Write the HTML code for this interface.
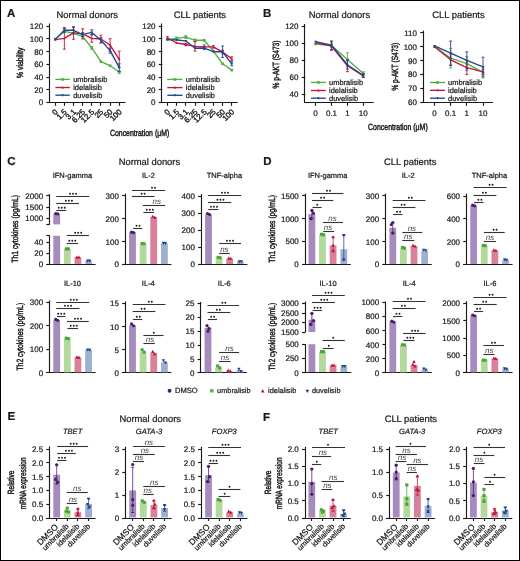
<!DOCTYPE html>
<html><head><meta charset="utf-8"><style>
html,body{margin:0;padding:0;background:#fff;}
body{width:520px;height:561px;overflow:hidden;}
svg{display:block;will-change:transform;font-family:"Liberation Sans",sans-serif;fill:#1a1a1a;}
text{stroke:#1a1a1a;stroke-width:0.22px;text-rendering:geometricPrecision;}
</style></head><body>
<svg width="520" height="561" viewBox="0 0 520 561">
<rect x="0.5" y="0.5" width="519" height="560" fill="#fff" stroke="#000" stroke-width="1"/>
<text x="7" y="16.9" font-size="11.5" font-weight="bold" >A</text>
<text x="87.3" y="18.1" font-size="9.4" text-anchor="middle" >Normal donors</text>
<text x="199.8" y="18.1" font-size="9.4" text-anchor="middle" >CLL patients</text>
<line x1="49.5" y1="23.5" x2="49.5" y2="102.6" stroke="#1a1a1a" stroke-width="1.15" stroke-linecap="butt"/>
<line x1="46.4" y1="26.5" x2="49.98" y2="26.5" stroke="#1a1a1a" stroke-width="1.15" stroke-linecap="butt"/>
<text x="43.2" y="29.13" font-size="8" text-anchor="end" >120</text>
<line x1="46.4" y1="38.5" x2="49.98" y2="38.5" stroke="#1a1a1a" stroke-width="1.15" stroke-linecap="butt"/>
<text x="43.2" y="41.85" font-size="8" text-anchor="end" >100</text>
<line x1="46.4" y1="51.5" x2="49.98" y2="51.5" stroke="#1a1a1a" stroke-width="1.15" stroke-linecap="butt"/>
<text x="43.2" y="54.57" font-size="8" text-anchor="end" >80</text>
<line x1="46.4" y1="64.5" x2="49.98" y2="64.5" stroke="#1a1a1a" stroke-width="1.15" stroke-linecap="butt"/>
<text x="43.2" y="67.29" font-size="8" text-anchor="end" >60</text>
<line x1="46.4" y1="77.5" x2="49.98" y2="77.5" stroke="#1a1a1a" stroke-width="1.15" stroke-linecap="butt"/>
<text x="43.2" y="80.01" font-size="8" text-anchor="end" >40</text>
<line x1="46.4" y1="89.5" x2="49.98" y2="89.5" stroke="#1a1a1a" stroke-width="1.15" stroke-linecap="butt"/>
<text x="43.2" y="92.73" font-size="8" text-anchor="end" >20</text>
<line x1="46.4" y1="102.5" x2="49.98" y2="102.5" stroke="#1a1a1a" stroke-width="1.15" stroke-linecap="butt"/>
<text x="43.2" y="105.45" font-size="8" text-anchor="end" >0</text>
<line x1="48.82" y1="102.5" x2="125.6" y2="102.5" stroke="#1a1a1a" stroke-width="1.15" stroke-linecap="butt"/>
<line x1="55.5" y1="102.6" x2="55.5" y2="105.8" stroke="#1a1a1a" stroke-width="1.15" stroke-linecap="butt"/>
<line x1="64.5" y1="102.6" x2="64.5" y2="105.8" stroke="#1a1a1a" stroke-width="1.15" stroke-linecap="butt"/>
<line x1="73.5" y1="102.6" x2="73.5" y2="105.8" stroke="#1a1a1a" stroke-width="1.15" stroke-linecap="butt"/>
<line x1="82.5" y1="102.6" x2="82.5" y2="105.8" stroke="#1a1a1a" stroke-width="1.15" stroke-linecap="butt"/>
<line x1="91.5" y1="102.6" x2="91.5" y2="105.8" stroke="#1a1a1a" stroke-width="1.15" stroke-linecap="butt"/>
<line x1="100.5" y1="102.6" x2="100.5" y2="105.8" stroke="#1a1a1a" stroke-width="1.15" stroke-linecap="butt"/>
<line x1="110.5" y1="102.6" x2="110.5" y2="105.8" stroke="#1a1a1a" stroke-width="1.15" stroke-linecap="butt"/>
<line x1="119.5" y1="102.6" x2="119.5" y2="105.8" stroke="#1a1a1a" stroke-width="1.15" stroke-linecap="butt"/>
<text transform="translate(58.2,112.4) rotate(-45)" font-size="7.8" text-anchor="end" style="stroke-width:0.35px">0</text>
<text transform="translate(67.35,112.4) rotate(-45)" font-size="7.8" text-anchor="end" style="stroke-width:0.35px">1.5</text>
<text transform="translate(76.5,112.4) rotate(-45)" font-size="7.8" text-anchor="end" style="stroke-width:0.35px">3.1</text>
<text transform="translate(85.65,112.4) rotate(-45)" font-size="7.8" text-anchor="end" style="stroke-width:0.35px">6.25</text>
<text transform="translate(94.8,112.4) rotate(-45)" font-size="7.8" text-anchor="end" style="stroke-width:0.35px">12.5</text>
<text transform="translate(103.95,112.4) rotate(-45)" font-size="7.8" text-anchor="end" style="stroke-width:0.35px">25</text>
<text transform="translate(113.1,112.4) rotate(-45)" font-size="7.8" text-anchor="end" style="stroke-width:0.35px">50</text>
<text transform="translate(122.25,112.4) rotate(-45)" font-size="7.8" text-anchor="end" style="stroke-width:0.35px">100</text>
<polyline points="55.2,39 64.35,31.37 73.5,33.28 82.65,36.46 91.8,47.9 100.95,61.58 110.1,65.71 119.25,72.07" fill="none" stroke="#52b043" stroke-width="1.35" stroke-linejoin="round"/>
<rect x="53.87" y="37.67" width="2.65" height="2.65" fill="#52b043"/>
<rect x="63.02" y="30.04" width="2.65" height="2.65" fill="#52b043"/>
<rect x="72.17" y="31.95" width="2.65" height="2.65" fill="#52b043"/>
<rect x="81.32" y="35.13" width="2.65" height="2.65" fill="#52b043"/>
<line x1="91.8" y1="46.63" x2="91.8" y2="49.18" stroke="#52b043" stroke-width="0.9" stroke-linecap="butt"/>
<line x1="90.3" y1="46.63" x2="93.3" y2="46.63" stroke="#52b043" stroke-width="0.9" stroke-linecap="butt"/>
<line x1="90.3" y1="49.18" x2="93.3" y2="49.18" stroke="#52b043" stroke-width="0.9" stroke-linecap="butt"/>
<rect x="90.47" y="46.58" width="2.65" height="2.65" fill="#52b043"/>
<rect x="99.62" y="60.25" width="2.65" height="2.65" fill="#52b043"/>
<rect x="108.77" y="64.39" width="2.65" height="2.65" fill="#52b043"/>
<line x1="119.25" y1="70.8" x2="119.25" y2="73.34" stroke="#52b043" stroke-width="0.9" stroke-linecap="butt"/>
<line x1="117.75" y1="70.8" x2="120.75" y2="70.8" stroke="#52b043" stroke-width="0.9" stroke-linecap="butt"/>
<line x1="117.75" y1="73.34" x2="120.75" y2="73.34" stroke="#52b043" stroke-width="0.9" stroke-linecap="butt"/>
<rect x="117.92" y="70.75" width="2.65" height="2.65" fill="#52b043"/>
<polyline points="55.2,39.64 64.35,38.36 73.5,32.89 82.65,33.91 91.8,38.36 100.95,39 110.1,45.04 119.25,59.35" fill="none" stroke="#c4163b" stroke-width="1.35" stroke-linejoin="round"/>
<path d="M55.2 38.15L56.53 40.62L53.87 40.62Z" fill="#c4163b"/>
<line x1="64.35" y1="27.55" x2="64.35" y2="49.18" stroke="#c4163b" stroke-width="0.9" stroke-linecap="butt"/>
<line x1="62.85" y1="27.55" x2="65.85" y2="27.55" stroke="#c4163b" stroke-width="0.9" stroke-linecap="butt"/>
<line x1="62.85" y1="49.18" x2="65.85" y2="49.18" stroke="#c4163b" stroke-width="0.9" stroke-linecap="butt"/>
<path d="M64.35 36.88L65.68 39.35L63.02 39.35Z" fill="#c4163b"/>
<line x1="73.5" y1="26.53" x2="73.5" y2="39.25" stroke="#c4163b" stroke-width="0.9" stroke-linecap="butt"/>
<line x1="72" y1="26.53" x2="75" y2="26.53" stroke="#c4163b" stroke-width="0.9" stroke-linecap="butt"/>
<line x1="72" y1="39.25" x2="75" y2="39.25" stroke="#c4163b" stroke-width="0.9" stroke-linecap="butt"/>
<path d="M73.5 31.41L74.83 33.88L72.17 33.88Z" fill="#c4163b"/>
<line x1="82.65" y1="28.82" x2="82.65" y2="39" stroke="#c4163b" stroke-width="0.9" stroke-linecap="butt"/>
<line x1="81.15" y1="28.82" x2="84.15" y2="28.82" stroke="#c4163b" stroke-width="0.9" stroke-linecap="butt"/>
<line x1="81.15" y1="39" x2="84.15" y2="39" stroke="#c4163b" stroke-width="0.9" stroke-linecap="butt"/>
<path d="M82.65 32.43L83.98 34.9L81.32 34.9Z" fill="#c4163b"/>
<line x1="91.8" y1="34.55" x2="91.8" y2="42.18" stroke="#c4163b" stroke-width="0.9" stroke-linecap="butt"/>
<line x1="90.3" y1="34.55" x2="93.3" y2="34.55" stroke="#c4163b" stroke-width="0.9" stroke-linecap="butt"/>
<line x1="90.3" y1="42.18" x2="93.3" y2="42.18" stroke="#c4163b" stroke-width="0.9" stroke-linecap="butt"/>
<path d="M91.8 36.88L93.13 39.35L90.47 39.35Z" fill="#c4163b"/>
<line x1="100.95" y1="35.18" x2="100.95" y2="42.82" stroke="#c4163b" stroke-width="0.9" stroke-linecap="butt"/>
<line x1="99.45" y1="35.18" x2="102.45" y2="35.18" stroke="#c4163b" stroke-width="0.9" stroke-linecap="butt"/>
<line x1="99.45" y1="42.82" x2="102.45" y2="42.82" stroke="#c4163b" stroke-width="0.9" stroke-linecap="butt"/>
<path d="M100.95 37.52L102.28 39.99L99.62 39.99Z" fill="#c4163b"/>
<line x1="110.1" y1="38.68" x2="110.1" y2="51.4" stroke="#c4163b" stroke-width="0.9" stroke-linecap="butt"/>
<line x1="108.6" y1="38.68" x2="111.6" y2="38.68" stroke="#c4163b" stroke-width="0.9" stroke-linecap="butt"/>
<line x1="108.6" y1="51.4" x2="111.6" y2="51.4" stroke="#c4163b" stroke-width="0.9" stroke-linecap="butt"/>
<path d="M110.1 43.56L111.43 46.03L108.77 46.03Z" fill="#c4163b"/>
<line x1="119.25" y1="51.08" x2="119.25" y2="67.62" stroke="#c4163b" stroke-width="0.9" stroke-linecap="butt"/>
<line x1="117.75" y1="51.08" x2="120.75" y2="51.08" stroke="#c4163b" stroke-width="0.9" stroke-linecap="butt"/>
<line x1="117.75" y1="67.62" x2="120.75" y2="67.62" stroke="#c4163b" stroke-width="0.9" stroke-linecap="butt"/>
<path d="M119.25 57.87L120.58 60.34L117.92 60.34Z" fill="#c4163b"/>
<polyline points="55.2,39.64 64.35,30.29 73.5,30.29 82.65,34.55 91.8,32.39 100.95,40.27 110.1,50.64 119.25,67.62" fill="none" stroke="#24478f" stroke-width="1.35" stroke-linejoin="round"/>
<path d="M55.2 41.12L56.53 38.65L53.87 38.65Z" fill="#24478f"/>
<line x1="64.35" y1="28.38" x2="64.35" y2="32.19" stroke="#24478f" stroke-width="0.9" stroke-linecap="butt"/>
<line x1="62.85" y1="28.38" x2="65.85" y2="28.38" stroke="#24478f" stroke-width="0.9" stroke-linecap="butt"/>
<line x1="62.85" y1="32.19" x2="65.85" y2="32.19" stroke="#24478f" stroke-width="0.9" stroke-linecap="butt"/>
<path d="M64.35 31.77L65.68 29.3L63.02 29.3Z" fill="#24478f"/>
<line x1="73.5" y1="27.74" x2="73.5" y2="32.83" stroke="#24478f" stroke-width="0.9" stroke-linecap="butt"/>
<line x1="72" y1="27.74" x2="75" y2="27.74" stroke="#24478f" stroke-width="0.9" stroke-linecap="butt"/>
<line x1="72" y1="32.83" x2="75" y2="32.83" stroke="#24478f" stroke-width="0.9" stroke-linecap="butt"/>
<path d="M73.5 31.77L74.83 29.3L72.17 29.3Z" fill="#24478f"/>
<line x1="82.65" y1="32.64" x2="82.65" y2="36.46" stroke="#24478f" stroke-width="0.9" stroke-linecap="butt"/>
<line x1="81.15" y1="32.64" x2="84.15" y2="32.64" stroke="#24478f" stroke-width="0.9" stroke-linecap="butt"/>
<line x1="81.15" y1="36.46" x2="84.15" y2="36.46" stroke="#24478f" stroke-width="0.9" stroke-linecap="butt"/>
<path d="M82.65 36.03L83.98 33.56L81.32 33.56Z" fill="#24478f"/>
<line x1="91.8" y1="29.84" x2="91.8" y2="34.93" stroke="#24478f" stroke-width="0.9" stroke-linecap="butt"/>
<line x1="90.3" y1="29.84" x2="93.3" y2="29.84" stroke="#24478f" stroke-width="0.9" stroke-linecap="butt"/>
<line x1="90.3" y1="34.93" x2="93.3" y2="34.93" stroke="#24478f" stroke-width="0.9" stroke-linecap="butt"/>
<path d="M91.8 33.87L93.13 31.4L90.47 31.4Z" fill="#24478f"/>
<line x1="100.95" y1="37.73" x2="100.95" y2="42.82" stroke="#24478f" stroke-width="0.9" stroke-linecap="butt"/>
<line x1="99.45" y1="37.73" x2="102.45" y2="37.73" stroke="#24478f" stroke-width="0.9" stroke-linecap="butt"/>
<line x1="99.45" y1="42.82" x2="102.45" y2="42.82" stroke="#24478f" stroke-width="0.9" stroke-linecap="butt"/>
<path d="M100.95 41.75L102.28 39.28L99.62 39.28Z" fill="#24478f"/>
<line x1="110.1" y1="48.09" x2="110.1" y2="53.18" stroke="#24478f" stroke-width="0.9" stroke-linecap="butt"/>
<line x1="108.6" y1="48.09" x2="111.6" y2="48.09" stroke="#24478f" stroke-width="0.9" stroke-linecap="butt"/>
<line x1="108.6" y1="53.18" x2="111.6" y2="53.18" stroke="#24478f" stroke-width="0.9" stroke-linecap="butt"/>
<path d="M110.1 52.12L111.43 49.65L108.77 49.65Z" fill="#24478f"/>
<line x1="119.25" y1="63.8" x2="119.25" y2="71.44" stroke="#24478f" stroke-width="0.9" stroke-linecap="butt"/>
<line x1="117.75" y1="63.8" x2="120.75" y2="63.8" stroke="#24478f" stroke-width="0.9" stroke-linecap="butt"/>
<line x1="117.75" y1="71.44" x2="120.75" y2="71.44" stroke="#24478f" stroke-width="0.9" stroke-linecap="butt"/>
<path d="M119.25 69.1L120.58 66.63L117.92 66.63Z" fill="#24478f"/>
<line x1="55.4" y1="79.4" x2="69.8" y2="79.4" stroke="#52b043" stroke-width="1.35" stroke-linecap="butt"/>
<rect x="61.27" y="78.07" width="2.65" height="2.65" fill="#52b043"/>
<text x="73.2" y="82" font-size="7.5" >umbralisib</text>
<line x1="55.4" y1="87.5" x2="69.8" y2="87.5" stroke="#c4163b" stroke-width="1.35" stroke-linecap="butt"/>
<path d="M62.6 86.02L63.93 88.49L61.27 88.49Z" fill="#c4163b"/>
<text x="73.2" y="90.1" font-size="7.5" >idelalisib</text>
<line x1="55.4" y1="95.2" x2="69.8" y2="95.2" stroke="#24478f" stroke-width="1.35" stroke-linecap="butt"/>
<path d="M62.6 96.68L63.93 94.21L61.27 94.21Z" fill="#24478f"/>
<text x="73.2" y="97.8" font-size="7.5" >duvelisib</text>
<text transform="translate(22.77,62.8) rotate(-90)" font-size="9" text-anchor="middle" textLength="30.5" lengthAdjust="spacingAndGlyphs" style="stroke-width:0.45px">% viability</text>
<line x1="161.5" y1="23.5" x2="161.5" y2="102.6" stroke="#1a1a1a" stroke-width="1.15" stroke-linecap="butt"/>
<line x1="158.75" y1="26.5" x2="162.32" y2="26.5" stroke="#1a1a1a" stroke-width="1.15" stroke-linecap="butt"/>
<text x="155.55" y="29.13" font-size="8" text-anchor="end" >120</text>
<line x1="158.75" y1="38.5" x2="162.32" y2="38.5" stroke="#1a1a1a" stroke-width="1.15" stroke-linecap="butt"/>
<text x="155.55" y="41.85" font-size="8" text-anchor="end" >100</text>
<line x1="158.75" y1="51.5" x2="162.32" y2="51.5" stroke="#1a1a1a" stroke-width="1.15" stroke-linecap="butt"/>
<text x="155.55" y="54.57" font-size="8" text-anchor="end" >80</text>
<line x1="158.75" y1="64.5" x2="162.32" y2="64.5" stroke="#1a1a1a" stroke-width="1.15" stroke-linecap="butt"/>
<text x="155.55" y="67.29" font-size="8" text-anchor="end" >60</text>
<line x1="158.75" y1="77.5" x2="162.32" y2="77.5" stroke="#1a1a1a" stroke-width="1.15" stroke-linecap="butt"/>
<text x="155.55" y="80.01" font-size="8" text-anchor="end" >40</text>
<line x1="158.75" y1="89.5" x2="162.32" y2="89.5" stroke="#1a1a1a" stroke-width="1.15" stroke-linecap="butt"/>
<text x="155.55" y="92.73" font-size="8" text-anchor="end" >20</text>
<line x1="158.75" y1="102.5" x2="162.32" y2="102.5" stroke="#1a1a1a" stroke-width="1.15" stroke-linecap="butt"/>
<text x="155.55" y="105.45" font-size="8" text-anchor="end" >0</text>
<line x1="161.18" y1="102.5" x2="237.7" y2="102.5" stroke="#1a1a1a" stroke-width="1.15" stroke-linecap="butt"/>
<line x1="167.5" y1="102.6" x2="167.5" y2="105.8" stroke="#1a1a1a" stroke-width="1.15" stroke-linecap="butt"/>
<line x1="176.5" y1="102.6" x2="176.5" y2="105.8" stroke="#1a1a1a" stroke-width="1.15" stroke-linecap="butt"/>
<line x1="185.5" y1="102.6" x2="185.5" y2="105.8" stroke="#1a1a1a" stroke-width="1.15" stroke-linecap="butt"/>
<line x1="195.5" y1="102.6" x2="195.5" y2="105.8" stroke="#1a1a1a" stroke-width="1.15" stroke-linecap="butt"/>
<line x1="204.5" y1="102.6" x2="204.5" y2="105.8" stroke="#1a1a1a" stroke-width="1.15" stroke-linecap="butt"/>
<line x1="213.5" y1="102.6" x2="213.5" y2="105.8" stroke="#1a1a1a" stroke-width="1.15" stroke-linecap="butt"/>
<line x1="222.5" y1="102.6" x2="222.5" y2="105.8" stroke="#1a1a1a" stroke-width="1.15" stroke-linecap="butt"/>
<line x1="231.5" y1="102.6" x2="231.5" y2="105.8" stroke="#1a1a1a" stroke-width="1.15" stroke-linecap="butt"/>
<text transform="translate(170.5,112.4) rotate(-45)" font-size="7.8" text-anchor="end" style="stroke-width:0.35px">0</text>
<text transform="translate(179.68,112.4) rotate(-45)" font-size="7.8" text-anchor="end" style="stroke-width:0.35px">1.5</text>
<text transform="translate(188.86,112.4) rotate(-45)" font-size="7.8" text-anchor="end" style="stroke-width:0.35px">3.1</text>
<text transform="translate(198.04,112.4) rotate(-45)" font-size="7.8" text-anchor="end" style="stroke-width:0.35px">6.25</text>
<text transform="translate(207.22,112.4) rotate(-45)" font-size="7.8" text-anchor="end" style="stroke-width:0.35px">12.5</text>
<text transform="translate(216.4,112.4) rotate(-45)" font-size="7.8" text-anchor="end" style="stroke-width:0.35px">25</text>
<text transform="translate(225.58,112.4) rotate(-45)" font-size="7.8" text-anchor="end" style="stroke-width:0.35px">50</text>
<text transform="translate(234.76,112.4) rotate(-45)" font-size="7.8" text-anchor="end" style="stroke-width:0.35px">100</text>
<polyline points="167.5,39.64 176.68,38.36 185.86,37.09 195.04,40.27 204.22,40.27 213.4,51.08 222.58,63.8 231.76,70.16" fill="none" stroke="#52b043" stroke-width="1.35" stroke-linejoin="round"/>
<rect x="166.17" y="38.31" width="2.65" height="2.65" fill="#52b043"/>
<line x1="176.68" y1="37.09" x2="176.68" y2="39.64" stroke="#52b043" stroke-width="0.9" stroke-linecap="butt"/>
<line x1="175.18" y1="37.09" x2="178.18" y2="37.09" stroke="#52b043" stroke-width="0.9" stroke-linecap="butt"/>
<line x1="175.18" y1="39.64" x2="178.18" y2="39.64" stroke="#52b043" stroke-width="0.9" stroke-linecap="butt"/>
<rect x="175.35" y="37.04" width="2.65" height="2.65" fill="#52b043"/>
<line x1="185.86" y1="35.82" x2="185.86" y2="38.36" stroke="#52b043" stroke-width="0.9" stroke-linecap="butt"/>
<line x1="184.36" y1="35.82" x2="187.36" y2="35.82" stroke="#52b043" stroke-width="0.9" stroke-linecap="butt"/>
<line x1="184.36" y1="38.36" x2="187.36" y2="38.36" stroke="#52b043" stroke-width="0.9" stroke-linecap="butt"/>
<rect x="184.53" y="35.77" width="2.65" height="2.65" fill="#52b043"/>
<line x1="195.04" y1="39" x2="195.04" y2="41.54" stroke="#52b043" stroke-width="0.9" stroke-linecap="butt"/>
<line x1="193.54" y1="39" x2="196.54" y2="39" stroke="#52b043" stroke-width="0.9" stroke-linecap="butt"/>
<line x1="193.54" y1="41.54" x2="196.54" y2="41.54" stroke="#52b043" stroke-width="0.9" stroke-linecap="butt"/>
<rect x="193.71" y="38.95" width="2.65" height="2.65" fill="#52b043"/>
<rect x="202.89" y="38.95" width="2.65" height="2.65" fill="#52b043"/>
<rect x="212.07" y="49.76" width="2.65" height="2.65" fill="#52b043"/>
<rect x="221.25" y="62.48" width="2.65" height="2.65" fill="#52b043"/>
<rect x="230.43" y="68.84" width="2.65" height="2.65" fill="#52b043"/>
<polyline points="167.5,37.98 176.68,43.01 185.86,44.53 195.04,46.38 204.22,46.89 213.4,46.89 222.58,52.04 231.76,58.72" fill="none" stroke="#c4163b" stroke-width="1.35" stroke-linejoin="round"/>
<line x1="167.5" y1="36.71" x2="167.5" y2="39.25" stroke="#c4163b" stroke-width="0.9" stroke-linecap="butt"/>
<line x1="166" y1="36.71" x2="169" y2="36.71" stroke="#c4163b" stroke-width="0.9" stroke-linecap="butt"/>
<line x1="166" y1="39.25" x2="169" y2="39.25" stroke="#c4163b" stroke-width="0.9" stroke-linecap="butt"/>
<path d="M167.5 36.5L168.83 38.97L166.17 38.97Z" fill="#c4163b"/>
<path d="M176.68 41.52L178.01 43.99L175.35 43.99Z" fill="#c4163b"/>
<line x1="185.86" y1="43.26" x2="185.86" y2="45.81" stroke="#c4163b" stroke-width="0.9" stroke-linecap="butt"/>
<line x1="184.36" y1="43.26" x2="187.36" y2="43.26" stroke="#c4163b" stroke-width="0.9" stroke-linecap="butt"/>
<line x1="184.36" y1="45.81" x2="187.36" y2="45.81" stroke="#c4163b" stroke-width="0.9" stroke-linecap="butt"/>
<path d="M185.86 43.05L187.19 45.52L184.53 45.52Z" fill="#c4163b"/>
<line x1="195.04" y1="41.61" x2="195.04" y2="51.15" stroke="#c4163b" stroke-width="0.9" stroke-linecap="butt"/>
<line x1="193.54" y1="41.61" x2="196.54" y2="41.61" stroke="#c4163b" stroke-width="0.9" stroke-linecap="butt"/>
<line x1="193.54" y1="51.15" x2="196.54" y2="51.15" stroke="#c4163b" stroke-width="0.9" stroke-linecap="butt"/>
<path d="M195.04 44.9L196.37 47.37L193.71 47.37Z" fill="#c4163b"/>
<line x1="204.22" y1="44.98" x2="204.22" y2="48.79" stroke="#c4163b" stroke-width="0.9" stroke-linecap="butt"/>
<line x1="202.72" y1="44.98" x2="205.72" y2="44.98" stroke="#c4163b" stroke-width="0.9" stroke-linecap="butt"/>
<line x1="202.72" y1="48.79" x2="205.72" y2="48.79" stroke="#c4163b" stroke-width="0.9" stroke-linecap="butt"/>
<path d="M204.22 45.4L205.55 47.87L202.89 47.87Z" fill="#c4163b"/>
<line x1="213.4" y1="45.61" x2="213.4" y2="48.16" stroke="#c4163b" stroke-width="0.9" stroke-linecap="butt"/>
<line x1="211.9" y1="45.61" x2="214.9" y2="45.61" stroke="#c4163b" stroke-width="0.9" stroke-linecap="butt"/>
<line x1="211.9" y1="48.16" x2="214.9" y2="48.16" stroke="#c4163b" stroke-width="0.9" stroke-linecap="butt"/>
<path d="M213.4 45.4L214.73 47.87L212.07 47.87Z" fill="#c4163b"/>
<line x1="222.58" y1="50.13" x2="222.58" y2="53.95" stroke="#c4163b" stroke-width="0.9" stroke-linecap="butt"/>
<line x1="221.08" y1="50.13" x2="224.08" y2="50.13" stroke="#c4163b" stroke-width="0.9" stroke-linecap="butt"/>
<line x1="221.08" y1="53.95" x2="224.08" y2="53.95" stroke="#c4163b" stroke-width="0.9" stroke-linecap="butt"/>
<path d="M222.58 50.56L223.91 53.03L221.25 53.03Z" fill="#c4163b"/>
<line x1="231.76" y1="56.81" x2="231.76" y2="60.62" stroke="#c4163b" stroke-width="0.9" stroke-linecap="butt"/>
<line x1="230.26" y1="56.81" x2="233.26" y2="56.81" stroke="#c4163b" stroke-width="0.9" stroke-linecap="butt"/>
<line x1="230.26" y1="60.62" x2="233.26" y2="60.62" stroke="#c4163b" stroke-width="0.9" stroke-linecap="butt"/>
<path d="M231.76 57.23L233.09 59.7L230.43 59.7Z" fill="#c4163b"/>
<polyline points="167.5,39.64 176.68,40.02 185.86,40.91 195.04,48.22 204.22,48.03 213.4,51.72 222.58,51.72 231.76,63.8" fill="none" stroke="#24478f" stroke-width="1.35" stroke-linejoin="round"/>
<path d="M167.5 41.12L168.83 38.65L166.17 38.65Z" fill="#24478f"/>
<path d="M176.68 41.5L178.01 39.03L175.35 39.03Z" fill="#24478f"/>
<path d="M185.86 42.39L187.19 39.92L184.53 39.92Z" fill="#24478f"/>
<path d="M195.04 49.7L196.37 47.23L193.71 47.23Z" fill="#24478f"/>
<line x1="204.22" y1="46.76" x2="204.22" y2="49.3" stroke="#24478f" stroke-width="0.9" stroke-linecap="butt"/>
<line x1="202.72" y1="46.76" x2="205.72" y2="46.76" stroke="#24478f" stroke-width="0.9" stroke-linecap="butt"/>
<line x1="202.72" y1="49.3" x2="205.72" y2="49.3" stroke="#24478f" stroke-width="0.9" stroke-linecap="butt"/>
<path d="M204.22 49.51L205.55 47.04L202.89 47.04Z" fill="#24478f"/>
<path d="M213.4 53.2L214.73 50.73L212.07 50.73Z" fill="#24478f"/>
<line x1="222.58" y1="46" x2="222.58" y2="57.44" stroke="#24478f" stroke-width="0.9" stroke-linecap="butt"/>
<line x1="221.08" y1="46" x2="224.08" y2="46" stroke="#24478f" stroke-width="0.9" stroke-linecap="butt"/>
<line x1="221.08" y1="57.44" x2="224.08" y2="57.44" stroke="#24478f" stroke-width="0.9" stroke-linecap="butt"/>
<path d="M222.58 53.2L223.91 50.73L221.25 50.73Z" fill="#24478f"/>
<line x1="231.76" y1="61.9" x2="231.76" y2="65.71" stroke="#24478f" stroke-width="0.9" stroke-linecap="butt"/>
<line x1="230.26" y1="61.9" x2="233.26" y2="61.9" stroke="#24478f" stroke-width="0.9" stroke-linecap="butt"/>
<line x1="230.26" y1="65.71" x2="233.26" y2="65.71" stroke="#24478f" stroke-width="0.9" stroke-linecap="butt"/>
<path d="M231.76 65.29L233.09 62.82L230.43 62.82Z" fill="#24478f"/>
<line x1="167.3" y1="79.4" x2="182.5" y2="79.4" stroke="#52b043" stroke-width="1.35" stroke-linecap="butt"/>
<rect x="173.57" y="78.07" width="2.65" height="2.65" fill="#52b043"/>
<text x="185.8" y="82" font-size="7.5" >umbralisib</text>
<line x1="167.3" y1="87.6" x2="182.5" y2="87.6" stroke="#c4163b" stroke-width="1.35" stroke-linecap="butt"/>
<path d="M174.9 86.12L176.23 88.59L173.57 88.59Z" fill="#c4163b"/>
<text x="185.8" y="90.2" font-size="7.5" >idelalisib</text>
<line x1="167.3" y1="95.3" x2="182.5" y2="95.3" stroke="#24478f" stroke-width="1.35" stroke-linecap="butt"/>
<path d="M174.9 96.78L176.23 94.31L173.57 94.31Z" fill="#24478f"/>
<text x="185.8" y="97.9" font-size="7.5" >duvelisib</text>
<text x="139.6" y="136.2" font-size="9" text-anchor="middle" textLength="59.2" lengthAdjust="spacingAndGlyphs" style="stroke-width:0.45px">Concentration (μM)</text>
<text x="263" y="17" font-size="11.5" font-weight="bold" >B</text>
<text x="339.4" y="18.1" font-size="9.4" text-anchor="middle" >Normal donors</text>
<text x="458.5" y="18.1" font-size="9.4" text-anchor="middle" >CLL patients</text>
<line x1="304.5" y1="24" x2="304.5" y2="102.6" stroke="#1a1a1a" stroke-width="1.15" stroke-linecap="butt"/>
<line x1="301.7" y1="26.5" x2="305.27" y2="26.5" stroke="#1a1a1a" stroke-width="1.15" stroke-linecap="butt"/>
<text x="298.5" y="29.45" font-size="8" text-anchor="end" >120</text>
<line x1="301.7" y1="43.5" x2="305.27" y2="43.5" stroke="#1a1a1a" stroke-width="1.15" stroke-linecap="butt"/>
<text x="298.5" y="46.3" font-size="8" text-anchor="end" >100</text>
<line x1="301.7" y1="60.5" x2="305.27" y2="60.5" stroke="#1a1a1a" stroke-width="1.15" stroke-linecap="butt"/>
<text x="298.5" y="63.15" font-size="8" text-anchor="end" >80</text>
<line x1="301.7" y1="77.5" x2="305.27" y2="77.5" stroke="#1a1a1a" stroke-width="1.15" stroke-linecap="butt"/>
<text x="298.5" y="80" font-size="8" text-anchor="end" >60</text>
<line x1="301.7" y1="94.5" x2="305.27" y2="94.5" stroke="#1a1a1a" stroke-width="1.15" stroke-linecap="butt"/>
<text x="298.5" y="96.85" font-size="8" text-anchor="end" >40</text>
<line x1="304.12" y1="102.5" x2="373.75" y2="102.5" stroke="#1a1a1a" stroke-width="1.15" stroke-linecap="butt"/>
<line x1="315.5" y1="102.6" x2="315.5" y2="105.8" stroke="#1a1a1a" stroke-width="1.15" stroke-linecap="butt"/>
<line x1="331.5" y1="102.6" x2="331.5" y2="105.8" stroke="#1a1a1a" stroke-width="1.15" stroke-linecap="butt"/>
<line x1="347.5" y1="102.6" x2="347.5" y2="105.8" stroke="#1a1a1a" stroke-width="1.15" stroke-linecap="butt"/>
<line x1="363.5" y1="102.6" x2="363.5" y2="105.8" stroke="#1a1a1a" stroke-width="1.15" stroke-linecap="butt"/>
<text x="315.6" y="116.2" font-size="8" text-anchor="middle" >0</text>
<text x="331.5" y="116.2" font-size="8" text-anchor="middle" >0.1</text>
<text x="347.4" y="116.2" font-size="8" text-anchor="middle" >1</text>
<text x="363.3" y="116.2" font-size="8" text-anchor="middle" >10</text>
<polyline points="315.6,44.04 331.5,45.47 347.4,59.54 363.3,73.44" fill="none" stroke="#52b043" stroke-width="1.35" stroke-linejoin="round"/>
<rect x="314.27" y="42.71" width="2.65" height="2.65" fill="#52b043"/>
<line x1="331.5" y1="43.79" x2="331.5" y2="47.16" stroke="#52b043" stroke-width="0.9" stroke-linecap="butt"/>
<line x1="330" y1="43.79" x2="333" y2="43.79" stroke="#52b043" stroke-width="0.9" stroke-linecap="butt"/>
<line x1="330" y1="47.16" x2="333" y2="47.16" stroke="#52b043" stroke-width="0.9" stroke-linecap="butt"/>
<rect x="330.17" y="44.15" width="2.65" height="2.65" fill="#52b043"/>
<line x1="347.4" y1="52.8" x2="347.4" y2="66.28" stroke="#52b043" stroke-width="0.9" stroke-linecap="butt"/>
<line x1="345.9" y1="52.8" x2="348.9" y2="52.8" stroke="#52b043" stroke-width="0.9" stroke-linecap="butt"/>
<line x1="345.9" y1="66.28" x2="348.9" y2="66.28" stroke="#52b043" stroke-width="0.9" stroke-linecap="butt"/>
<rect x="346.07" y="58.22" width="2.65" height="2.65" fill="#52b043"/>
<line x1="363.3" y1="71.76" x2="363.3" y2="75.13" stroke="#52b043" stroke-width="0.9" stroke-linecap="butt"/>
<line x1="361.8" y1="71.76" x2="364.8" y2="71.76" stroke="#52b043" stroke-width="0.9" stroke-linecap="butt"/>
<line x1="361.8" y1="75.13" x2="364.8" y2="75.13" stroke="#52b043" stroke-width="0.9" stroke-linecap="butt"/>
<rect x="361.97" y="72.12" width="2.65" height="2.65" fill="#52b043"/>
<polyline points="315.6,42.61 331.5,46.15 347.4,65.78 363.3,75.89" fill="none" stroke="#c4163b" stroke-width="1.35" stroke-linejoin="round"/>
<path d="M315.6 41.13L316.93 43.6L314.27 43.6Z" fill="#c4163b"/>
<line x1="331.5" y1="41.93" x2="331.5" y2="50.36" stroke="#c4163b" stroke-width="0.9" stroke-linecap="butt"/>
<line x1="330" y1="41.93" x2="333" y2="41.93" stroke="#c4163b" stroke-width="0.9" stroke-linecap="butt"/>
<line x1="330" y1="50.36" x2="333" y2="50.36" stroke="#c4163b" stroke-width="0.9" stroke-linecap="butt"/>
<path d="M331.5 44.66L332.83 47.13L330.17 47.13Z" fill="#c4163b"/>
<line x1="347.4" y1="59.88" x2="347.4" y2="71.67" stroke="#c4163b" stroke-width="0.9" stroke-linecap="butt"/>
<line x1="345.9" y1="59.88" x2="348.9" y2="59.88" stroke="#c4163b" stroke-width="0.9" stroke-linecap="butt"/>
<line x1="345.9" y1="71.67" x2="348.9" y2="71.67" stroke="#c4163b" stroke-width="0.9" stroke-linecap="butt"/>
<path d="M347.4 64.29L348.73 66.76L346.07 66.76Z" fill="#c4163b"/>
<line x1="363.3" y1="74.2" x2="363.3" y2="77.57" stroke="#c4163b" stroke-width="0.9" stroke-linecap="butt"/>
<line x1="361.8" y1="74.2" x2="364.8" y2="74.2" stroke="#c4163b" stroke-width="0.9" stroke-linecap="butt"/>
<line x1="361.8" y1="77.57" x2="364.8" y2="77.57" stroke="#c4163b" stroke-width="0.9" stroke-linecap="butt"/>
<path d="M363.3 74.4L364.63 76.87L361.97 76.87Z" fill="#c4163b"/>
<polyline points="315.6,41.77 331.5,45.13 347.4,64.77 363.3,75.47" fill="none" stroke="#24478f" stroke-width="1.35" stroke-linejoin="round"/>
<path d="M315.6 43.25L316.93 40.78L314.27 40.78Z" fill="#24478f"/>
<line x1="331.5" y1="40.92" x2="331.5" y2="49.35" stroke="#24478f" stroke-width="0.9" stroke-linecap="butt"/>
<line x1="330" y1="40.92" x2="333" y2="40.92" stroke="#24478f" stroke-width="0.9" stroke-linecap="butt"/>
<line x1="330" y1="49.35" x2="333" y2="49.35" stroke="#24478f" stroke-width="0.9" stroke-linecap="butt"/>
<path d="M331.5 46.62L332.83 44.15L330.17 44.15Z" fill="#24478f"/>
<line x1="347.4" y1="60.55" x2="347.4" y2="68.98" stroke="#24478f" stroke-width="0.9" stroke-linecap="butt"/>
<line x1="345.9" y1="60.55" x2="348.9" y2="60.55" stroke="#24478f" stroke-width="0.9" stroke-linecap="butt"/>
<line x1="345.9" y1="68.98" x2="348.9" y2="68.98" stroke="#24478f" stroke-width="0.9" stroke-linecap="butt"/>
<path d="M347.4 66.25L348.73 63.78L346.07 63.78Z" fill="#24478f"/>
<line x1="363.3" y1="73.78" x2="363.3" y2="77.15" stroke="#24478f" stroke-width="0.9" stroke-linecap="butt"/>
<line x1="361.8" y1="73.78" x2="364.8" y2="73.78" stroke="#24478f" stroke-width="0.9" stroke-linecap="butt"/>
<line x1="361.8" y1="77.15" x2="364.8" y2="77.15" stroke="#24478f" stroke-width="0.9" stroke-linecap="butt"/>
<path d="M363.3 76.95L364.63 74.48L361.97 74.48Z" fill="#24478f"/>
<line x1="311" y1="82.4" x2="325.8" y2="82.4" stroke="#52b043" stroke-width="1.35" stroke-linecap="butt"/>
<rect x="317.07" y="81.07" width="2.65" height="2.65" fill="#52b043"/>
<text x="329" y="85" font-size="7.5" >umbralisib</text>
<line x1="311" y1="90.5" x2="325.8" y2="90.5" stroke="#c4163b" stroke-width="1.35" stroke-linecap="butt"/>
<path d="M318.4 89.02L319.73 91.49L317.07 91.49Z" fill="#c4163b"/>
<text x="329" y="93.1" font-size="7.5" >idelalisib</text>
<line x1="311" y1="98.2" x2="325.8" y2="98.2" stroke="#24478f" stroke-width="1.35" stroke-linecap="butt"/>
<path d="M318.4 99.68L319.73 97.21L317.07 97.21Z" fill="#24478f"/>
<text x="329" y="100.8" font-size="7.5" >duvelisib</text>
<text transform="translate(278.97,64.5) rotate(-90)" font-size="9" text-anchor="middle" textLength="48" lengthAdjust="spacingAndGlyphs" style="stroke-width:0.45px">% p-AKT (S473)</text>
<line x1="423.5" y1="30.7" x2="423.5" y2="102.6" stroke="#1a1a1a" stroke-width="1.15" stroke-linecap="butt"/>
<line x1="420.2" y1="32.5" x2="423.77" y2="32.5" stroke="#1a1a1a" stroke-width="1.15" stroke-linecap="butt"/>
<text x="417" y="35.55" font-size="8" text-anchor="end" >110</text>
<line x1="420.2" y1="46.5" x2="423.77" y2="46.5" stroke="#1a1a1a" stroke-width="1.15" stroke-linecap="butt"/>
<text x="417" y="49.53" font-size="8" text-anchor="end" >100</text>
<line x1="420.2" y1="60.5" x2="423.77" y2="60.5" stroke="#1a1a1a" stroke-width="1.15" stroke-linecap="butt"/>
<text x="417" y="63.51" font-size="8" text-anchor="end" >90</text>
<line x1="420.2" y1="74.5" x2="423.77" y2="74.5" stroke="#1a1a1a" stroke-width="1.15" stroke-linecap="butt"/>
<text x="417" y="77.49" font-size="8" text-anchor="end" >80</text>
<line x1="420.2" y1="88.5" x2="423.77" y2="88.5" stroke="#1a1a1a" stroke-width="1.15" stroke-linecap="butt"/>
<text x="417" y="91.47" font-size="8" text-anchor="end" >70</text>
<line x1="420.2" y1="102.5" x2="423.77" y2="102.5" stroke="#1a1a1a" stroke-width="1.15" stroke-linecap="butt"/>
<text x="417" y="105.45" font-size="8" text-anchor="end" >60</text>
<line x1="422.62" y1="102.5" x2="493" y2="102.5" stroke="#1a1a1a" stroke-width="1.15" stroke-linecap="butt"/>
<line x1="434.5" y1="102.6" x2="434.5" y2="105.8" stroke="#1a1a1a" stroke-width="1.15" stroke-linecap="butt"/>
<line x1="450.5" y1="102.6" x2="450.5" y2="105.8" stroke="#1a1a1a" stroke-width="1.15" stroke-linecap="butt"/>
<line x1="466.5" y1="102.6" x2="466.5" y2="105.8" stroke="#1a1a1a" stroke-width="1.15" stroke-linecap="butt"/>
<line x1="483.5" y1="102.6" x2="483.5" y2="105.8" stroke="#1a1a1a" stroke-width="1.15" stroke-linecap="butt"/>
<text x="434.5" y="116.2" font-size="8" text-anchor="middle" >0</text>
<text x="450.67" y="116.2" font-size="8" text-anchor="middle" >0.1</text>
<text x="466.84" y="116.2" font-size="8" text-anchor="middle" >1</text>
<text x="483.01" y="116.2" font-size="8" text-anchor="middle" >10</text>
<polyline points="434.5,46.54 450.67,58.14 466.84,63.6 483.01,72.4" fill="none" stroke="#52b043" stroke-width="1.35" stroke-linejoin="round"/>
<rect x="433.17" y="45.21" width="2.65" height="2.65" fill="#52b043"/>
<line x1="450.67" y1="48.36" x2="450.67" y2="67.93" stroke="#52b043" stroke-width="0.9" stroke-linecap="butt"/>
<line x1="449.17" y1="48.36" x2="452.17" y2="48.36" stroke="#52b043" stroke-width="0.9" stroke-linecap="butt"/>
<line x1="449.17" y1="67.93" x2="452.17" y2="67.93" stroke="#52b043" stroke-width="0.9" stroke-linecap="butt"/>
<rect x="449.34" y="56.82" width="2.65" height="2.65" fill="#52b043"/>
<line x1="466.84" y1="56.61" x2="466.84" y2="70.59" stroke="#52b043" stroke-width="0.9" stroke-linecap="butt"/>
<line x1="465.34" y1="56.61" x2="468.34" y2="56.61" stroke="#52b043" stroke-width="0.9" stroke-linecap="butt"/>
<line x1="465.34" y1="70.59" x2="468.34" y2="70.59" stroke="#52b043" stroke-width="0.9" stroke-linecap="butt"/>
<rect x="465.51" y="62.27" width="2.65" height="2.65" fill="#52b043"/>
<line x1="483.01" y1="66.81" x2="483.01" y2="78" stroke="#52b043" stroke-width="0.9" stroke-linecap="butt"/>
<line x1="481.51" y1="66.81" x2="484.51" y2="66.81" stroke="#52b043" stroke-width="0.9" stroke-linecap="butt"/>
<line x1="481.51" y1="78" x2="484.51" y2="78" stroke="#52b043" stroke-width="0.9" stroke-linecap="butt"/>
<rect x="481.68" y="71.08" width="2.65" height="2.65" fill="#52b043"/>
<polyline points="434.5,46.68 450.67,59.82 466.84,67.65 483.01,71.84" fill="none" stroke="#c4163b" stroke-width="1.35" stroke-linejoin="round"/>
<path d="M434.5 45.2L435.83 47.67L433.17 47.67Z" fill="#c4163b"/>
<line x1="450.67" y1="54.23" x2="450.67" y2="65.41" stroke="#c4163b" stroke-width="0.9" stroke-linecap="butt"/>
<line x1="449.17" y1="54.23" x2="452.17" y2="54.23" stroke="#c4163b" stroke-width="0.9" stroke-linecap="butt"/>
<line x1="449.17" y1="65.41" x2="452.17" y2="65.41" stroke="#c4163b" stroke-width="0.9" stroke-linecap="butt"/>
<path d="M450.67 58.34L452 60.81L449.34 60.81Z" fill="#c4163b"/>
<line x1="466.84" y1="60.66" x2="466.84" y2="74.64" stroke="#c4163b" stroke-width="0.9" stroke-linecap="butt"/>
<line x1="465.34" y1="60.66" x2="468.34" y2="60.66" stroke="#c4163b" stroke-width="0.9" stroke-linecap="butt"/>
<line x1="465.34" y1="74.64" x2="468.34" y2="74.64" stroke="#c4163b" stroke-width="0.9" stroke-linecap="butt"/>
<path d="M466.84 66.17L468.17 68.64L465.51 68.64Z" fill="#c4163b"/>
<line x1="483.01" y1="69.05" x2="483.01" y2="74.64" stroke="#c4163b" stroke-width="0.9" stroke-linecap="butt"/>
<line x1="481.51" y1="69.05" x2="484.51" y2="69.05" stroke="#c4163b" stroke-width="0.9" stroke-linecap="butt"/>
<line x1="481.51" y1="74.64" x2="484.51" y2="74.64" stroke="#c4163b" stroke-width="0.9" stroke-linecap="butt"/>
<path d="M483.01 70.36L484.34 72.83L481.68 72.83Z" fill="#c4163b"/>
<polyline points="434.5,45.98 450.67,53.11 466.84,60.38 483.01,66.95" fill="none" stroke="#24478f" stroke-width="1.35" stroke-linejoin="round"/>
<path d="M434.5 47.46L435.83 44.99L433.17 44.99Z" fill="#24478f"/>
<line x1="450.67" y1="41.09" x2="450.67" y2="65.13" stroke="#24478f" stroke-width="0.9" stroke-linecap="butt"/>
<line x1="449.17" y1="41.09" x2="452.17" y2="41.09" stroke="#24478f" stroke-width="0.9" stroke-linecap="butt"/>
<line x1="449.17" y1="65.13" x2="452.17" y2="65.13" stroke="#24478f" stroke-width="0.9" stroke-linecap="butt"/>
<path d="M450.67 54.59L452 52.12L449.34 52.12Z" fill="#24478f"/>
<line x1="466.84" y1="51.85" x2="466.84" y2="68.91" stroke="#24478f" stroke-width="0.9" stroke-linecap="butt"/>
<line x1="465.34" y1="51.85" x2="468.34" y2="51.85" stroke="#24478f" stroke-width="0.9" stroke-linecap="butt"/>
<line x1="465.34" y1="68.91" x2="468.34" y2="68.91" stroke="#24478f" stroke-width="0.9" stroke-linecap="butt"/>
<path d="M466.84 61.86L468.17 59.39L465.51 59.39Z" fill="#24478f"/>
<line x1="483.01" y1="57.16" x2="483.01" y2="76.74" stroke="#24478f" stroke-width="0.9" stroke-linecap="butt"/>
<line x1="481.51" y1="57.16" x2="484.51" y2="57.16" stroke="#24478f" stroke-width="0.9" stroke-linecap="butt"/>
<line x1="481.51" y1="76.74" x2="484.51" y2="76.74" stroke="#24478f" stroke-width="0.9" stroke-linecap="butt"/>
<path d="M483.01 68.43L484.34 65.96L481.68 65.96Z" fill="#24478f"/>
<line x1="430" y1="82.5" x2="445" y2="82.5" stroke="#52b043" stroke-width="1.35" stroke-linecap="butt"/>
<rect x="436.17" y="81.17" width="2.65" height="2.65" fill="#52b043"/>
<text x="448" y="85.1" font-size="7.5" >umbralisib</text>
<line x1="430" y1="90.3" x2="445" y2="90.3" stroke="#c4163b" stroke-width="1.35" stroke-linecap="butt"/>
<path d="M437.5 88.82L438.83 91.29L436.17 91.29Z" fill="#c4163b"/>
<text x="448" y="92.9" font-size="7.5" >idelalisib</text>
<line x1="430" y1="98.2" x2="445" y2="98.2" stroke="#24478f" stroke-width="1.35" stroke-linecap="butt"/>
<path d="M437.5 99.68L438.83 97.21L436.17 97.21Z" fill="#24478f"/>
<text x="448" y="100.8" font-size="7.5" >duvelisib</text>
<text transform="translate(398.27,66.7) rotate(-90)" font-size="9" text-anchor="middle" textLength="47.8" lengthAdjust="spacingAndGlyphs" style="stroke-width:0.45px">% p-AKT (S473)</text>
<text x="397.9" y="129.6" font-size="9" text-anchor="middle" textLength="59.6" lengthAdjust="spacingAndGlyphs" style="stroke-width:0.45px">Concentration (μM)</text>
<text x="7.3" y="164.5" font-size="11.5" font-weight="bold" >C</text>
<text x="149.4" y="165.4" font-size="9.4" text-anchor="middle" >Normal donors</text>
<text x="72.5" y="177.6" font-size="7.5" text-anchor="middle" >IFN-gamma</text>
<text x="148.5" y="177.6" font-size="7.5" text-anchor="middle" >IL-2</text>
<text x="224.4" y="177.6" font-size="7.5" text-anchor="middle" >TNF-alpha</text>
<text x="72.5" y="285.5" font-size="7.5" text-anchor="middle" >IL-10</text>
<text x="148.3" y="285.5" font-size="7.5" text-anchor="middle" >IL-4</text>
<text x="224.3" y="285.5" font-size="7.5" text-anchor="middle" >IL-6</text>
<text transform="translate(18.37,228.9) rotate(-90)" font-size="9" text-anchor="middle" textLength="67.8" lengthAdjust="spacingAndGlyphs" style="stroke-width:0.45px">Th1 cytokines (pg/mL)</text>
<text transform="translate(23.47,336.7) rotate(-90)" font-size="9" text-anchor="middle" textLength="67.8" lengthAdjust="spacingAndGlyphs" style="stroke-width:0.45px">Th2 cytokines (pg/mL)</text>
<line x1="49.5" y1="194.2" x2="49.5" y2="224.4" stroke="#1a1a1a" stroke-width="1.15" stroke-linecap="butt"/>
<line x1="46.3" y1="195.5" x2="49.88" y2="195.5" stroke="#1a1a1a" stroke-width="1.15" stroke-linecap="butt"/>
<text x="43.1" y="198.75" font-size="8" text-anchor="end" >2000</text>
<line x1="46.3" y1="207.5" x2="49.88" y2="207.5" stroke="#1a1a1a" stroke-width="1.15" stroke-linecap="butt"/>
<text x="43.1" y="210" font-size="8" text-anchor="end" >1500</text>
<line x1="46.3" y1="218.5" x2="49.88" y2="218.5" stroke="#1a1a1a" stroke-width="1.15" stroke-linecap="butt"/>
<text x="43.1" y="221.25" font-size="8" text-anchor="end" >1000</text>
<line x1="46.3" y1="224.5" x2="49.88" y2="224.5" stroke="#1a1a1a" stroke-width="1.15" stroke-linecap="butt"/>
<line x1="49.5" y1="235.8" x2="49.5" y2="264.6" stroke="#1a1a1a" stroke-width="1.15" stroke-linecap="butt"/>
<line x1="46.3" y1="235.5" x2="49.88" y2="235.5" stroke="#1a1a1a" stroke-width="1.15" stroke-linecap="butt"/>
<line x1="46.3" y1="242.5" x2="49.88" y2="242.5" stroke="#1a1a1a" stroke-width="1.15" stroke-linecap="butt"/>
<text x="43.1" y="244.95" font-size="8" text-anchor="end" >40</text>
<line x1="46.3" y1="253.5" x2="49.88" y2="253.5" stroke="#1a1a1a" stroke-width="1.15" stroke-linecap="butt"/>
<text x="43.1" y="256.2" font-size="8" text-anchor="end" >20</text>
<line x1="46.3" y1="264.5" x2="49.88" y2="264.5" stroke="#1a1a1a" stroke-width="1.15" stroke-linecap="butt"/>
<text x="43.1" y="267.45" font-size="8" text-anchor="end" >0</text>
<rect x="53.3" y="213.77" width="6.8" height="10.63" fill="#a68cbc"/>
<rect x="53.3" y="235.8" width="6.8" height="28.23" fill="#a68cbc"/>
<rect x="63.9" y="248.85" width="6.8" height="15.18" fill="#b4d99c"/>
<rect x="74.5" y="257.29" width="6.8" height="6.74" fill="#d98199"/>
<rect x="85.2" y="260.83" width="6.8" height="3.19" fill="#9db0d2"/>
<circle cx="55.7" cy="213.56" r="1.59" fill="#4e1a6e"/>
<circle cx="57.7" cy="213.9" r="1.59" fill="#4e1a6e"/>
<rect x="64.77" y="247.32" width="3.06" height="3.06" fill="#4aa636"/>
<rect x="66.77" y="247.32" width="3.06" height="3.06" fill="#4aa636"/>
<path d="M76.9 255.42L78.58 258.54L75.22 258.54Z" fill="#c0113a"/>
<path d="M78.9 255.42L80.58 258.54L77.22 258.54Z" fill="#c0113a"/>
<path d="M87.6 262.7L89.28 259.58L85.92 259.58Z" fill="#213f85"/>
<path d="M89.6 262.7L91.28 259.58L87.92 259.58Z" fill="#213f85"/>
<line x1="46.3" y1="264.5" x2="95.6" y2="264.5" stroke="#1a1a1a" stroke-width="1.15" stroke-linecap="butt"/>
<line x1="56.2" y1="196.5" x2="89.2" y2="196.5" stroke="#333" stroke-width="1.1" stroke-linecap="butt"/>
<circle cx="70" cy="193.75" r="0.95" fill="#1a1a1a"/>
<circle cx="73" cy="193.75" r="0.95" fill="#1a1a1a"/>
<circle cx="76" cy="193.75" r="0.95" fill="#1a1a1a"/>
<line x1="56.2" y1="203.5" x2="78.9" y2="203.5" stroke="#333" stroke-width="1.1" stroke-linecap="butt"/>
<circle cx="65.9" cy="200.75" r="0.95" fill="#1a1a1a"/>
<circle cx="68.9" cy="200.75" r="0.95" fill="#1a1a1a"/>
<circle cx="71.9" cy="200.75" r="0.95" fill="#1a1a1a"/>
<line x1="56.2" y1="210.5" x2="66.2" y2="210.5" stroke="#333" stroke-width="1.1" stroke-linecap="butt"/>
<circle cx="58.8" cy="207.75" r="0.95" fill="#1a1a1a"/>
<circle cx="61.8" cy="207.75" r="0.95" fill="#1a1a1a"/>
<circle cx="64.8" cy="207.75" r="0.95" fill="#1a1a1a"/>
<line x1="66.9" y1="235.5" x2="88.9" y2="235.5" stroke="#333" stroke-width="1.1" stroke-linecap="butt"/>
<circle cx="75.2" cy="232.75" r="0.95" fill="#1a1a1a"/>
<circle cx="78.2" cy="232.75" r="0.95" fill="#1a1a1a"/>
<circle cx="81.2" cy="232.75" r="0.95" fill="#1a1a1a"/>
<line x1="66.9" y1="243.5" x2="78.2" y2="243.5" stroke="#333" stroke-width="1.1" stroke-linecap="butt"/>
<circle cx="69.3" cy="240.75" r="0.95" fill="#1a1a1a"/>
<circle cx="72.3" cy="240.75" r="0.95" fill="#1a1a1a"/>
<circle cx="75.3" cy="240.75" r="0.95" fill="#1a1a1a"/>
<line x1="125.5" y1="193.6" x2="125.5" y2="264.6" stroke="#1a1a1a" stroke-width="1.15" stroke-linecap="butt"/>
<line x1="122.1" y1="195.5" x2="125.67" y2="195.5" stroke="#1a1a1a" stroke-width="1.15" stroke-linecap="butt"/>
<text x="118.9" y="198.84" font-size="8" text-anchor="end" >300</text>
<line x1="122.1" y1="218.5" x2="125.67" y2="218.5" stroke="#1a1a1a" stroke-width="1.15" stroke-linecap="butt"/>
<text x="118.9" y="221.71" font-size="8" text-anchor="end" >200</text>
<line x1="122.1" y1="241.5" x2="125.67" y2="241.5" stroke="#1a1a1a" stroke-width="1.15" stroke-linecap="butt"/>
<text x="118.9" y="244.58" font-size="8" text-anchor="end" >100</text>
<line x1="122.1" y1="264.5" x2="125.67" y2="264.5" stroke="#1a1a1a" stroke-width="1.15" stroke-linecap="butt"/>
<text x="118.9" y="267.45" font-size="8" text-anchor="end" >0</text>
<line x1="122.1" y1="264.5" x2="171.4" y2="264.5" stroke="#1a1a1a" stroke-width="1.15" stroke-linecap="butt"/>
<rect x="129.1" y="232.12" width="6.8" height="31.9" fill="#a68cbc"/>
<rect x="139.7" y="243.79" width="6.8" height="20.24" fill="#b4d99c"/>
<rect x="150.3" y="217.03" width="6.8" height="46.99" fill="#d98199"/>
<rect x="161" y="243.33" width="6.8" height="20.69" fill="#9db0d2"/>
<circle cx="131.5" cy="232.12" r="1.59" fill="#4e1a6e"/>
<circle cx="133.5" cy="232.58" r="1.59" fill="#4e1a6e"/>
<rect x="140.57" y="242.03" width="3.06" height="3.06" fill="#4aa636"/>
<rect x="142.57" y="242.26" width="3.06" height="3.06" fill="#4aa636"/>
<path d="M152.7 214.7L154.38 217.82L151.02 217.82Z" fill="#c0113a"/>
<path d="M154.7 215.62L156.38 218.74L153.02 218.74Z" fill="#c0113a"/>
<path d="M163.4 244.97L165.08 241.85L161.72 241.85Z" fill="#213f85"/>
<path d="M165.4 245.2L167.08 242.08L163.72 242.08Z" fill="#213f85"/>
<line x1="131.9" y1="190.5" x2="165.2" y2="190.5" stroke="#333" stroke-width="1.1" stroke-linecap="butt"/>
<circle cx="152" cy="187.75" r="0.95" fill="#1a1a1a"/>
<circle cx="155" cy="187.75" r="0.95" fill="#1a1a1a"/>
<line x1="131.9" y1="196.5" x2="154.6" y2="196.5" stroke="#333" stroke-width="1.1" stroke-linecap="butt"/>
<circle cx="141.6" cy="193.75" r="0.95" fill="#1a1a1a"/>
<circle cx="144.6" cy="193.75" r="0.95" fill="#1a1a1a"/>
<line x1="142.8" y1="205.5" x2="165.2" y2="205.5" stroke="#333" stroke-width="1.1" stroke-linecap="butt"/>
<text x="156.7" y="204.1" font-size="8" text-anchor="middle" font-style="italic" fill="#444" style="stroke-width:0">ns</text>
<line x1="143.4" y1="212.5" x2="154" y2="212.5" stroke="#333" stroke-width="1.1" stroke-linecap="butt"/>
<circle cx="146.8" cy="209.75" r="0.95" fill="#1a1a1a"/>
<circle cx="149.8" cy="209.75" r="0.95" fill="#1a1a1a"/>
<circle cx="152.8" cy="209.75" r="0.95" fill="#1a1a1a"/>
<line x1="133.1" y1="228.5" x2="142.3" y2="228.5" stroke="#333" stroke-width="1.1" stroke-linecap="butt"/>
<circle cx="136.5" cy="225.75" r="0.95" fill="#1a1a1a"/>
<circle cx="139.5" cy="225.75" r="0.95" fill="#1a1a1a"/>
<line x1="201.5" y1="194.1" x2="201.5" y2="264.6" stroke="#1a1a1a" stroke-width="1.15" stroke-linecap="butt"/>
<line x1="198.1" y1="196.5" x2="201.67" y2="196.5" stroke="#1a1a1a" stroke-width="1.15" stroke-linecap="butt"/>
<text x="194.9" y="198.85" font-size="8" text-anchor="end" >400</text>
<line x1="198.1" y1="213.5" x2="201.67" y2="213.5" stroke="#1a1a1a" stroke-width="1.15" stroke-linecap="butt"/>
<text x="194.9" y="216" font-size="8" text-anchor="end" >300</text>
<line x1="198.1" y1="230.5" x2="201.67" y2="230.5" stroke="#1a1a1a" stroke-width="1.15" stroke-linecap="butt"/>
<text x="194.9" y="233.15" font-size="8" text-anchor="end" >200</text>
<line x1="198.1" y1="247.5" x2="201.67" y2="247.5" stroke="#1a1a1a" stroke-width="1.15" stroke-linecap="butt"/>
<text x="194.9" y="250.3" font-size="8" text-anchor="end" >100</text>
<line x1="198.1" y1="264.5" x2="201.67" y2="264.5" stroke="#1a1a1a" stroke-width="1.15" stroke-linecap="butt"/>
<text x="194.9" y="267.45" font-size="8" text-anchor="end" >0</text>
<line x1="198.1" y1="264.5" x2="247.4" y2="264.5" stroke="#1a1a1a" stroke-width="1.15" stroke-linecap="butt"/>
<rect x="205.1" y="214.52" width="6.8" height="49.5" fill="#a68cbc"/>
<rect x="215.7" y="257.74" width="6.8" height="6.29" fill="#b4d99c"/>
<rect x="226.3" y="258.6" width="6.8" height="5.43" fill="#d98199"/>
<rect x="237" y="261.51" width="6.8" height="2.51" fill="#9db0d2"/>
<circle cx="207.5" cy="213.49" r="1.59" fill="#4e1a6e"/>
<circle cx="209.5" cy="214.52" r="1.59" fill="#4e1a6e"/>
<rect x="216.57" y="255.87" width="3.06" height="3.06" fill="#4aa636"/>
<rect x="218.57" y="256.21" width="3.06" height="3.06" fill="#4aa636"/>
<path d="M228.7 256.38L230.38 259.5L227.02 259.5Z" fill="#c0113a"/>
<path d="M230.7 256.73L232.38 259.85L229.02 259.85Z" fill="#c0113a"/>
<path d="M239.4 263.39L241.08 260.27L237.72 260.27Z" fill="#213f85"/>
<path d="M241.4 263.39L243.08 260.27L239.72 260.27Z" fill="#213f85"/>
<line x1="207.9" y1="195.5" x2="241.2" y2="195.5" stroke="#333" stroke-width="1.1" stroke-linecap="butt"/>
<circle cx="222" cy="192.75" r="0.95" fill="#1a1a1a"/>
<circle cx="225" cy="192.75" r="0.95" fill="#1a1a1a"/>
<circle cx="228" cy="192.75" r="0.95" fill="#1a1a1a"/>
<line x1="207.9" y1="202.5" x2="231.1" y2="202.5" stroke="#333" stroke-width="1.1" stroke-linecap="butt"/>
<circle cx="217.4" cy="199.75" r="0.95" fill="#1a1a1a"/>
<circle cx="220.4" cy="199.75" r="0.95" fill="#1a1a1a"/>
<circle cx="223.4" cy="199.75" r="0.95" fill="#1a1a1a"/>
<line x1="208.3" y1="209.5" x2="218.3" y2="209.5" stroke="#333" stroke-width="1.1" stroke-linecap="butt"/>
<circle cx="211" cy="206.75" r="0.95" fill="#1a1a1a"/>
<circle cx="214" cy="206.75" r="0.95" fill="#1a1a1a"/>
<circle cx="217" cy="206.75" r="0.95" fill="#1a1a1a"/>
<line x1="219.1" y1="243.5" x2="241" y2="243.5" stroke="#333" stroke-width="1.1" stroke-linecap="butt"/>
<circle cx="227" cy="240.75" r="0.95" fill="#1a1a1a"/>
<circle cx="230" cy="240.75" r="0.95" fill="#1a1a1a"/>
<circle cx="233" cy="240.75" r="0.95" fill="#1a1a1a"/>
<line x1="219.1" y1="253.5" x2="229.8" y2="253.5" stroke="#333" stroke-width="1.1" stroke-linecap="butt"/>
<text x="224.4" y="252.1" font-size="8" text-anchor="middle" font-style="italic" fill="#444" style="stroke-width:0">ns</text>
<line x1="49.5" y1="300.5" x2="49.5" y2="372.9" stroke="#1a1a1a" stroke-width="1.15" stroke-linecap="butt"/>
<line x1="46.3" y1="302.5" x2="49.88" y2="302.5" stroke="#1a1a1a" stroke-width="1.15" stroke-linecap="butt"/>
<text x="43.1" y="305.34" font-size="8" text-anchor="end" >300</text>
<line x1="46.3" y1="325.5" x2="49.88" y2="325.5" stroke="#1a1a1a" stroke-width="1.15" stroke-linecap="butt"/>
<text x="43.1" y="328.81" font-size="8" text-anchor="end" >200</text>
<line x1="46.3" y1="349.5" x2="49.88" y2="349.5" stroke="#1a1a1a" stroke-width="1.15" stroke-linecap="butt"/>
<text x="43.1" y="352.28" font-size="8" text-anchor="end" >100</text>
<line x1="46.3" y1="372.5" x2="49.88" y2="372.5" stroke="#1a1a1a" stroke-width="1.15" stroke-linecap="butt"/>
<text x="43.1" y="375.75" font-size="8" text-anchor="end" >0</text>
<line x1="46.3" y1="372.5" x2="95.6" y2="372.5" stroke="#1a1a1a" stroke-width="1.15" stroke-linecap="butt"/>
<rect x="53.3" y="320.09" width="6.8" height="52.23" fill="#a68cbc"/>
<rect x="63.9" y="338.4" width="6.8" height="33.93" fill="#b4d99c"/>
<rect x="74.5" y="357.41" width="6.8" height="14.92" fill="#d98199"/>
<rect x="85.2" y="349.9" width="6.8" height="22.43" fill="#9db0d2"/>
<circle cx="55.7" cy="319.39" r="1.59" fill="#4e1a6e"/>
<circle cx="57.7" cy="320.33" r="1.59" fill="#4e1a6e"/>
<rect x="64.77" y="336.63" width="3.06" height="3.06" fill="#4aa636"/>
<rect x="66.77" y="337.1" width="3.06" height="3.06" fill="#4aa636"/>
<path d="M76.9 355.3L78.58 358.42L75.22 358.42Z" fill="#c0113a"/>
<path d="M78.9 355.54L80.58 358.66L77.22 358.66Z" fill="#c0113a"/>
<path d="M87.6 351.54L89.28 348.42L85.92 348.42Z" fill="#213f85"/>
<path d="M89.6 351.77L91.28 348.65L87.92 348.65Z" fill="#213f85"/>
<line x1="56.25" y1="302.5" x2="89.25" y2="302.5" stroke="#333" stroke-width="1.1" stroke-linecap="butt"/>
<circle cx="70.75" cy="299.75" r="0.95" fill="#1a1a1a"/>
<circle cx="73.75" cy="299.75" r="0.95" fill="#1a1a1a"/>
<circle cx="76.75" cy="299.75" r="0.95" fill="#1a1a1a"/>
<line x1="56.25" y1="308.5" x2="79.5" y2="308.5" stroke="#333" stroke-width="1.1" stroke-linecap="butt"/>
<circle cx="65" cy="305.75" r="0.95" fill="#1a1a1a"/>
<circle cx="68" cy="305.75" r="0.95" fill="#1a1a1a"/>
<circle cx="71" cy="305.75" r="0.95" fill="#1a1a1a"/>
<line x1="57" y1="316.5" x2="65.5" y2="316.5" stroke="#333" stroke-width="1.1" stroke-linecap="butt"/>
<circle cx="58.25" cy="313.75" r="0.95" fill="#1a1a1a"/>
<circle cx="61.25" cy="313.75" r="0.95" fill="#1a1a1a"/>
<circle cx="64.25" cy="313.75" r="0.95" fill="#1a1a1a"/>
<line x1="67" y1="321.5" x2="88.75" y2="321.5" stroke="#333" stroke-width="1.1" stroke-linecap="butt"/>
<circle cx="75" cy="318.75" r="0.95" fill="#1a1a1a"/>
<circle cx="78" cy="318.75" r="0.95" fill="#1a1a1a"/>
<circle cx="81" cy="318.75" r="0.95" fill="#1a1a1a"/>
<line x1="67.5" y1="328.5" x2="78" y2="328.5" stroke="#333" stroke-width="1.1" stroke-linecap="butt"/>
<circle cx="70.75" cy="325.75" r="0.95" fill="#1a1a1a"/>
<circle cx="73.75" cy="325.75" r="0.95" fill="#1a1a1a"/>
<circle cx="76.75" cy="325.75" r="0.95" fill="#1a1a1a"/>
<line x1="125.5" y1="301.5" x2="125.5" y2="372.9" stroke="#1a1a1a" stroke-width="1.15" stroke-linecap="butt"/>
<line x1="122.1" y1="303.5" x2="125.67" y2="303.5" stroke="#1a1a1a" stroke-width="1.15" stroke-linecap="butt"/>
<text x="118.9" y="306.45" font-size="8" text-anchor="end" >15</text>
<line x1="122.1" y1="326.5" x2="125.67" y2="326.5" stroke="#1a1a1a" stroke-width="1.15" stroke-linecap="butt"/>
<text x="118.9" y="329.55" font-size="8" text-anchor="end" >10</text>
<line x1="122.1" y1="349.5" x2="125.67" y2="349.5" stroke="#1a1a1a" stroke-width="1.15" stroke-linecap="butt"/>
<text x="118.9" y="352.65" font-size="8" text-anchor="end" >5</text>
<line x1="122.1" y1="372.5" x2="125.67" y2="372.5" stroke="#1a1a1a" stroke-width="1.15" stroke-linecap="butt"/>
<text x="118.9" y="375.75" font-size="8" text-anchor="end" >0</text>
<line x1="122.1" y1="372.5" x2="171.4" y2="372.5" stroke="#1a1a1a" stroke-width="1.15" stroke-linecap="butt"/>
<rect x="129.1" y="325.31" width="6.8" height="47.01" fill="#a68cbc"/>
<rect x="139.7" y="351.65" width="6.8" height="20.68" fill="#b4d99c"/>
<rect x="150.3" y="353.03" width="6.8" height="19.29" fill="#d98199"/>
<rect x="161" y="362.27" width="6.8" height="10.05" fill="#9db0d2"/>
<circle cx="131.5" cy="323.93" r="1.59" fill="#4e1a6e"/>
<circle cx="133.5" cy="325.78" r="1.59" fill="#4e1a6e"/>
<rect x="140.57" y="348.27" width="3.06" height="3.06" fill="#4aa636"/>
<rect x="142.57" y="350.58" width="3.06" height="3.06" fill="#4aa636"/>
<path d="M152.7 349.78L154.38 352.9L151.02 352.9Z" fill="#c0113a"/>
<path d="M154.7 352.09L156.38 355.21L153.02 355.21Z" fill="#c0113a"/>
<path d="M163.4 362.3L165.08 359.18L161.72 359.18Z" fill="#213f85"/>
<path d="M165.4 364.61L167.08 361.49L163.72 361.49Z" fill="#213f85"/>
<line x1="132.7" y1="304.5" x2="165.5" y2="304.5" stroke="#333" stroke-width="1.1" stroke-linecap="butt"/>
<circle cx="148.8" cy="301.75" r="0.95" fill="#1a1a1a"/>
<circle cx="151.8" cy="301.75" r="0.95" fill="#1a1a1a"/>
<line x1="132.7" y1="311.5" x2="155.4" y2="311.5" stroke="#333" stroke-width="1.1" stroke-linecap="butt"/>
<circle cx="141.6" cy="308.75" r="0.95" fill="#1a1a1a"/>
<circle cx="144.6" cy="308.75" r="0.95" fill="#1a1a1a"/>
<line x1="133" y1="319.5" x2="142.3" y2="319.5" stroke="#333" stroke-width="1.1" stroke-linecap="butt"/>
<circle cx="136.8" cy="316.75" r="0.95" fill="#1a1a1a"/>
<circle cx="139.8" cy="316.75" r="0.95" fill="#1a1a1a"/>
<line x1="143.4" y1="335.5" x2="163.6" y2="335.5" stroke="#333" stroke-width="1.1" stroke-linecap="butt"/>
<circle cx="153.8" cy="332.75" r="0.95" fill="#1a1a1a"/>
<line x1="143.4" y1="343.5" x2="154.8" y2="343.5" stroke="#333" stroke-width="1.1" stroke-linecap="butt"/>
<text x="150" y="342.1" font-size="8" text-anchor="middle" font-style="italic" fill="#444" style="stroke-width:0">ns</text>
<line x1="200.5" y1="302" x2="200.5" y2="372.9" stroke="#1a1a1a" stroke-width="1.15" stroke-linecap="butt"/>
<line x1="197.6" y1="303.5" x2="201.17" y2="303.5" stroke="#1a1a1a" stroke-width="1.15" stroke-linecap="butt"/>
<text x="194.4" y="306.25" font-size="8" text-anchor="end" >25</text>
<line x1="197.6" y1="317.5" x2="201.17" y2="317.5" stroke="#1a1a1a" stroke-width="1.15" stroke-linecap="butt"/>
<text x="194.4" y="320.15" font-size="8" text-anchor="end" >20</text>
<line x1="197.6" y1="331.5" x2="201.17" y2="331.5" stroke="#1a1a1a" stroke-width="1.15" stroke-linecap="butt"/>
<text x="194.4" y="334.05" font-size="8" text-anchor="end" >15</text>
<line x1="197.6" y1="345.5" x2="201.17" y2="345.5" stroke="#1a1a1a" stroke-width="1.15" stroke-linecap="butt"/>
<text x="194.4" y="347.95" font-size="8" text-anchor="end" >10</text>
<line x1="197.6" y1="359.5" x2="201.17" y2="359.5" stroke="#1a1a1a" stroke-width="1.15" stroke-linecap="butt"/>
<text x="194.4" y="361.85" font-size="8" text-anchor="end" >5</text>
<line x1="197.6" y1="372.5" x2="201.17" y2="372.5" stroke="#1a1a1a" stroke-width="1.15" stroke-linecap="butt"/>
<text x="194.4" y="375.75" font-size="8" text-anchor="end" >0</text>
<line x1="197.6" y1="372.5" x2="246.9" y2="372.5" stroke="#1a1a1a" stroke-width="1.15" stroke-linecap="butt"/>
<rect x="204.6" y="327.86" width="6.8" height="44.46" fill="#a68cbc"/>
<rect x="215.2" y="367.34" width="6.8" height="4.99" fill="#b4d99c"/>
<rect x="225.8" y="370.95" width="6.8" height="1.37" fill="#d98199"/>
<rect x="236.5" y="370.12" width="6.8" height="2.2" fill="#9db0d2"/>
<circle cx="207" cy="325.64" r="1.59" fill="#4e1a6e"/>
<circle cx="209" cy="328.42" r="1.59" fill="#4e1a6e"/>
<circle cx="208" cy="331.2" r="1.59" fill="#4e1a6e"/>
<rect x="216.07" y="364.42" width="3.06" height="3.06" fill="#4aa636"/>
<rect x="218.07" y="366.37" width="3.06" height="3.06" fill="#4aa636"/>
<path d="M228.2 368.53L229.88 371.65L226.52 371.65Z" fill="#c0113a"/>
<path d="M230.2 369.36L231.88 372.48L228.52 372.48Z" fill="#c0113a"/>
<path d="M238.9 370.88L240.58 367.76L237.22 367.76Z" fill="#213f85"/>
<path d="M240.9 373.1L242.58 369.98L239.22 369.98Z" fill="#213f85"/>
<line x1="207.5" y1="305.5" x2="239.1" y2="305.5" stroke="#333" stroke-width="1.1" stroke-linecap="butt"/>
<circle cx="222.4" cy="302.75" r="0.95" fill="#1a1a1a"/>
<circle cx="225.4" cy="302.75" r="0.95" fill="#1a1a1a"/>
<line x1="207.5" y1="312.5" x2="230.3" y2="312.5" stroke="#333" stroke-width="1.1" stroke-linecap="butt"/>
<circle cx="216.8" cy="309.75" r="0.95" fill="#1a1a1a"/>
<circle cx="219.8" cy="309.75" r="0.95" fill="#1a1a1a"/>
<line x1="207.9" y1="319.5" x2="217" y2="319.5" stroke="#333" stroke-width="1.1" stroke-linecap="butt"/>
<circle cx="211.2" cy="316.75" r="0.95" fill="#1a1a1a"/>
<circle cx="214.2" cy="316.75" r="0.95" fill="#1a1a1a"/>
<line x1="219.1" y1="352.5" x2="239.1" y2="352.5" stroke="#333" stroke-width="1.1" stroke-linecap="butt"/>
<text x="229.5" y="351.1" font-size="8" text-anchor="middle" font-style="italic" fill="#444" style="stroke-width:0">ns</text>
<line x1="219.1" y1="361.5" x2="230.6" y2="361.5" stroke="#333" stroke-width="1.1" stroke-linecap="butt"/>
<text x="225" y="360.1" font-size="8" text-anchor="middle" font-style="italic" fill="#444" style="stroke-width:0">ns</text>
<text x="263.3" y="164.7" font-size="11.5" font-weight="bold" >D</text>
<text x="410.2" y="165.4" font-size="9.4" text-anchor="middle" >CLL patients</text>
<text x="327.7" y="177.6" font-size="7.5" text-anchor="middle" >IFN-gamma</text>
<text x="408.2" y="177.6" font-size="7.5" text-anchor="middle" >IL-2</text>
<text x="489.5" y="177.6" font-size="7.5" text-anchor="middle" >TNF-alpha</text>
<text x="328.1" y="285.5" font-size="7.5" text-anchor="middle" >IL-10</text>
<text x="409.1" y="285.5" font-size="7.5" text-anchor="middle" >IL-4</text>
<text x="490" y="285.5" font-size="7.5" text-anchor="middle" >IL-6</text>
<text transform="translate(274.87,228.9) rotate(-90)" font-size="9" text-anchor="middle" textLength="67.8" lengthAdjust="spacingAndGlyphs" style="stroke-width:0.45px">Th1 cytokines (pg/mL)</text>
<text transform="translate(274.87,336.7) rotate(-90)" font-size="9" text-anchor="middle" textLength="67.8" lengthAdjust="spacingAndGlyphs" style="stroke-width:0.45px">Th2 cytokines (pg/mL)</text>
<line x1="305.5" y1="193.6" x2="305.5" y2="264.6" stroke="#1a1a1a" stroke-width="1.15" stroke-linecap="butt"/>
<line x1="302" y1="195.5" x2="305.57" y2="195.5" stroke="#1a1a1a" stroke-width="1.15" stroke-linecap="butt"/>
<text x="298.8" y="198.54" font-size="8" text-anchor="end" >1500</text>
<line x1="302" y1="218.5" x2="305.57" y2="218.5" stroke="#1a1a1a" stroke-width="1.15" stroke-linecap="butt"/>
<text x="298.8" y="221.51" font-size="8" text-anchor="end" >1000</text>
<line x1="302" y1="241.5" x2="305.57" y2="241.5" stroke="#1a1a1a" stroke-width="1.15" stroke-linecap="butt"/>
<text x="298.8" y="244.48" font-size="8" text-anchor="end" >500</text>
<line x1="302" y1="264.5" x2="305.57" y2="264.5" stroke="#1a1a1a" stroke-width="1.15" stroke-linecap="butt"/>
<text x="298.8" y="267.45" font-size="8" text-anchor="end" >0</text>
<line x1="302" y1="264.5" x2="350.8" y2="264.5" stroke="#1a1a1a" stroke-width="1.15" stroke-linecap="butt"/>
<rect x="308.5" y="214.07" width="6.8" height="49.96" fill="#a68cbc"/>
<rect x="319.1" y="234.56" width="6.8" height="29.47" fill="#b4d99c"/>
<rect x="329.7" y="245.44" width="6.8" height="18.58" fill="#d98199"/>
<rect x="340.4" y="249.21" width="6.8" height="14.81" fill="#9db0d2"/>
<line x1="311.9" y1="210.39" x2="311.9" y2="218.66" stroke="#4e1a6e" stroke-width="0.75" stroke-linecap="butt"/>
<line x1="310.3" y1="210.39" x2="313.5" y2="210.39" stroke="#4e1a6e" stroke-width="0.85" stroke-linecap="butt"/>
<line x1="310.3" y1="218.66" x2="313.5" y2="218.66" stroke="#4e1a6e" stroke-width="0.85" stroke-linecap="butt"/>
<line x1="333.1" y1="237.04" x2="333.1" y2="251.74" stroke="#c0113a" stroke-width="0.75" stroke-linecap="butt"/>
<line x1="331.5" y1="237.04" x2="334.7" y2="237.04" stroke="#c0113a" stroke-width="0.85" stroke-linecap="butt"/>
<line x1="331.5" y1="251.74" x2="334.7" y2="251.74" stroke="#c0113a" stroke-width="0.85" stroke-linecap="butt"/>
<line x1="343.8" y1="235.34" x2="343.8" y2="259.78" stroke="#213f85" stroke-width="0.75" stroke-linecap="butt"/>
<line x1="342.2" y1="235.34" x2="345.4" y2="235.34" stroke="#213f85" stroke-width="0.85" stroke-linecap="butt"/>
<line x1="342.2" y1="259.78" x2="345.4" y2="259.78" stroke="#213f85" stroke-width="0.85" stroke-linecap="butt"/>
<circle cx="311.9" cy="210.39" r="1.59" fill="#4e1a6e"/>
<circle cx="310.9" cy="218.66" r="1.59" fill="#4e1a6e"/>
<circle cx="313.4" cy="213.15" r="1.59" fill="#4e1a6e"/>
<rect x="319.97" y="232.75" width="3.06" height="3.06" fill="#4aa636"/>
<rect x="321.97" y="233.21" width="3.06" height="3.06" fill="#4aa636"/>
<path d="M333.1 235.16L334.78 238.28L331.42 238.28Z" fill="#c0113a"/>
<path d="M333.1 243.43L334.78 246.55L331.42 246.55Z" fill="#c0113a"/>
<path d="M333.1 248.95L334.78 252.07L331.42 252.07Z" fill="#c0113a"/>
<path d="M343.8 237.21L345.48 234.09L342.12 234.09Z" fill="#213f85"/>
<path d="M343.8 261.65L345.48 258.53L342.12 258.53Z" fill="#213f85"/>
<line x1="312" y1="193.5" x2="343.4" y2="193.5" stroke="#333" stroke-width="1.1" stroke-linecap="butt"/>
<circle cx="327" cy="190.75" r="0.95" fill="#1a1a1a"/>
<circle cx="330" cy="190.75" r="0.95" fill="#1a1a1a"/>
<line x1="312" y1="200.5" x2="333.3" y2="200.5" stroke="#333" stroke-width="1.1" stroke-linecap="butt"/>
<circle cx="321.1" cy="197.75" r="0.95" fill="#1a1a1a"/>
<circle cx="324.1" cy="197.75" r="0.95" fill="#1a1a1a"/>
<line x1="312.5" y1="207.5" x2="321.6" y2="207.5" stroke="#333" stroke-width="1.1" stroke-linecap="butt"/>
<circle cx="317.3" cy="204.75" r="0.95" fill="#1a1a1a"/>
<line x1="322.9" y1="222.5" x2="342.9" y2="222.5" stroke="#333" stroke-width="1.1" stroke-linecap="butt"/>
<text x="332.5" y="221.1" font-size="8" text-anchor="middle" font-style="italic" fill="#444" style="stroke-width:0">ns</text>
<line x1="323.2" y1="231.5" x2="334.1" y2="231.5" stroke="#333" stroke-width="1.1" stroke-linecap="butt"/>
<text x="328" y="230.1" font-size="8" text-anchor="middle" font-style="italic" fill="#444" style="stroke-width:0">ns</text>
<line x1="385.5" y1="193.6" x2="385.5" y2="264.6" stroke="#1a1a1a" stroke-width="1.15" stroke-linecap="butt"/>
<line x1="382.4" y1="195.5" x2="385.97" y2="195.5" stroke="#1a1a1a" stroke-width="1.15" stroke-linecap="butt"/>
<text x="379.2" y="198.84" font-size="8" text-anchor="end" >300</text>
<line x1="382.4" y1="218.5" x2="385.97" y2="218.5" stroke="#1a1a1a" stroke-width="1.15" stroke-linecap="butt"/>
<text x="379.2" y="221.71" font-size="8" text-anchor="end" >200</text>
<line x1="382.4" y1="241.5" x2="385.97" y2="241.5" stroke="#1a1a1a" stroke-width="1.15" stroke-linecap="butt"/>
<text x="379.2" y="244.58" font-size="8" text-anchor="end" >100</text>
<line x1="382.4" y1="264.5" x2="385.97" y2="264.5" stroke="#1a1a1a" stroke-width="1.15" stroke-linecap="butt"/>
<text x="379.2" y="267.45" font-size="8" text-anchor="end" >0</text>
<line x1="382.4" y1="264.5" x2="431.7" y2="264.5" stroke="#1a1a1a" stroke-width="1.15" stroke-linecap="butt"/>
<rect x="389.4" y="227.78" width="6.8" height="36.25" fill="#a68cbc"/>
<rect x="400" y="248.59" width="6.8" height="15.43" fill="#b4d99c"/>
<rect x="410.6" y="246.08" width="6.8" height="17.95" fill="#d98199"/>
<rect x="421.3" y="250.65" width="6.8" height="13.38" fill="#9db0d2"/>
<line x1="392.8" y1="222.52" x2="392.8" y2="233.04" stroke="#4e1a6e" stroke-width="0.75" stroke-linecap="butt"/>
<line x1="391.2" y1="222.52" x2="394.4" y2="222.52" stroke="#4e1a6e" stroke-width="0.85" stroke-linecap="butt"/>
<line x1="391.2" y1="233.04" x2="394.4" y2="233.04" stroke="#4e1a6e" stroke-width="0.85" stroke-linecap="butt"/>
<circle cx="392.8" cy="222.52" r="1.59" fill="#4e1a6e"/>
<circle cx="391.3" cy="224.58" r="1.59" fill="#4e1a6e"/>
<circle cx="392.8" cy="233.04" r="1.59" fill="#4e1a6e"/>
<rect x="400.87" y="245.92" width="3.06" height="3.06" fill="#4aa636"/>
<rect x="402.87" y="246.6" width="3.06" height="3.06" fill="#4aa636"/>
<path d="M413 243.52L414.68 246.64L411.32 246.64Z" fill="#c0113a"/>
<path d="M415 244.43L416.68 247.55L413.32 247.55Z" fill="#c0113a"/>
<path d="M423.7 251.84L425.38 248.72L422.02 248.72Z" fill="#213f85"/>
<path d="M425.7 252.29L427.38 249.17L424.02 249.17Z" fill="#213f85"/>
<line x1="392.7" y1="200.5" x2="425.5" y2="200.5" stroke="#333" stroke-width="1.1" stroke-linecap="butt"/>
<circle cx="408.8" cy="197.75" r="0.95" fill="#1a1a1a"/>
<circle cx="411.8" cy="197.75" r="0.95" fill="#1a1a1a"/>
<line x1="392.7" y1="207.5" x2="415.4" y2="207.5" stroke="#333" stroke-width="1.1" stroke-linecap="butt"/>
<circle cx="401.6" cy="204.75" r="0.95" fill="#1a1a1a"/>
<circle cx="404.6" cy="204.75" r="0.95" fill="#1a1a1a"/>
<line x1="393" y1="214.5" x2="402.4" y2="214.5" stroke="#333" stroke-width="1.1" stroke-linecap="butt"/>
<circle cx="397.1" cy="211.75" r="0.95" fill="#1a1a1a"/>
<circle cx="400.1" cy="211.75" r="0.95" fill="#1a1a1a"/>
<line x1="402.3" y1="232.5" x2="422.3" y2="232.5" stroke="#333" stroke-width="1.1" stroke-linecap="butt"/>
<text x="411.9" y="231.1" font-size="8" text-anchor="middle" font-style="italic" fill="#444" style="stroke-width:0">ns</text>
<line x1="402.3" y1="240.5" x2="414.3" y2="240.5" stroke="#333" stroke-width="1.1" stroke-linecap="butt"/>
<text x="408.2" y="239.1" font-size="8" text-anchor="middle" font-style="italic" fill="#444" style="stroke-width:0">ns</text>
<line x1="466.5" y1="193.6" x2="466.5" y2="264.6" stroke="#1a1a1a" stroke-width="1.15" stroke-linecap="butt"/>
<line x1="463.25" y1="196.5" x2="466.82" y2="196.5" stroke="#1a1a1a" stroke-width="1.15" stroke-linecap="butt"/>
<text x="460.05" y="198.85" font-size="8" text-anchor="end" >600</text>
<line x1="463.25" y1="218.5" x2="466.82" y2="218.5" stroke="#1a1a1a" stroke-width="1.15" stroke-linecap="butt"/>
<text x="460.05" y="221.72" font-size="8" text-anchor="end" >400</text>
<line x1="463.25" y1="241.5" x2="466.82" y2="241.5" stroke="#1a1a1a" stroke-width="1.15" stroke-linecap="butt"/>
<text x="460.05" y="244.58" font-size="8" text-anchor="end" >200</text>
<line x1="463.25" y1="264.5" x2="466.82" y2="264.5" stroke="#1a1a1a" stroke-width="1.15" stroke-linecap="butt"/>
<text x="460.05" y="267.45" font-size="8" text-anchor="end" >0</text>
<line x1="463.25" y1="264.5" x2="512.55" y2="264.5" stroke="#1a1a1a" stroke-width="1.15" stroke-linecap="butt"/>
<rect x="470.25" y="205.6" width="6.8" height="58.42" fill="#a68cbc"/>
<rect x="480.85" y="245.74" width="6.8" height="18.29" fill="#b4d99c"/>
<rect x="491.45" y="250.54" width="6.8" height="13.49" fill="#d98199"/>
<rect x="502.15" y="260.03" width="6.8" height="4" fill="#9db0d2"/>
<circle cx="472.65" cy="205.15" r="1.59" fill="#4e1a6e"/>
<circle cx="474.65" cy="205.83" r="1.59" fill="#4e1a6e"/>
<rect x="481.72" y="243.86" width="3.06" height="3.06" fill="#4aa636"/>
<rect x="483.72" y="244.21" width="3.06" height="3.06" fill="#4aa636"/>
<path d="M493.85 248.32L495.53 251.44L492.17 251.44Z" fill="#c0113a"/>
<path d="M495.85 248.67L497.53 251.79L494.17 251.79Z" fill="#c0113a"/>
<path d="M504.55 261.33L506.23 258.21L502.87 258.21Z" fill="#213f85"/>
<path d="M506.55 261.9L508.23 258.78L504.87 258.78Z" fill="#213f85"/>
<line x1="473.5" y1="187.5" x2="506.6" y2="187.5" stroke="#333" stroke-width="1.1" stroke-linecap="butt"/>
<circle cx="489.6" cy="184.75" r="0.95" fill="#1a1a1a"/>
<circle cx="492.6" cy="184.75" r="0.95" fill="#1a1a1a"/>
<line x1="473.5" y1="195.5" x2="496.4" y2="195.5" stroke="#333" stroke-width="1.1" stroke-linecap="butt"/>
<circle cx="482.9" cy="192.75" r="0.95" fill="#1a1a1a"/>
<circle cx="485.9" cy="192.75" r="0.95" fill="#1a1a1a"/>
<line x1="474" y1="202.5" x2="483.4" y2="202.5" stroke="#333" stroke-width="1.1" stroke-linecap="butt"/>
<circle cx="478.4" cy="199.75" r="0.95" fill="#1a1a1a"/>
<circle cx="481.4" cy="199.75" r="0.95" fill="#1a1a1a"/>
<line x1="483.9" y1="232.5" x2="504.7" y2="232.5" stroke="#333" stroke-width="1.1" stroke-linecap="butt"/>
<circle cx="493.6" cy="229.75" r="0.95" fill="#1a1a1a"/>
<circle cx="496.6" cy="229.75" r="0.95" fill="#1a1a1a"/>
<line x1="483.9" y1="241.5" x2="495.9" y2="241.5" stroke="#333" stroke-width="1.1" stroke-linecap="butt"/>
<text x="490" y="240.1" font-size="8" text-anchor="middle" font-style="italic" fill="#444" style="stroke-width:0">ns</text>
<line x1="305.5" y1="301.5" x2="305.5" y2="332" stroke="#1a1a1a" stroke-width="1.15" stroke-linecap="butt"/>
<line x1="302" y1="303.5" x2="305.57" y2="303.5" stroke="#1a1a1a" stroke-width="1.15" stroke-linecap="butt"/>
<text x="298.8" y="306.44" font-size="8" text-anchor="end" >3000</text>
<line x1="302" y1="313.5" x2="305.57" y2="313.5" stroke="#1a1a1a" stroke-width="1.15" stroke-linecap="butt"/>
<text x="298.8" y="315.91" font-size="8" text-anchor="end" >2500</text>
<line x1="302" y1="322.5" x2="305.57" y2="322.5" stroke="#1a1a1a" stroke-width="1.15" stroke-linecap="butt"/>
<text x="298.8" y="325.38" font-size="8" text-anchor="end" >2000</text>
<line x1="302" y1="332.5" x2="305.57" y2="332.5" stroke="#1a1a1a" stroke-width="1.15" stroke-linecap="butt"/>
<text x="298.8" y="334.85" font-size="8" text-anchor="end" >1500</text>
<line x1="305.5" y1="344.2" x2="305.5" y2="372.9" stroke="#1a1a1a" stroke-width="1.15" stroke-linecap="butt"/>
<line x1="302" y1="344.5" x2="305.57" y2="344.5" stroke="#1a1a1a" stroke-width="1.15" stroke-linecap="butt"/>
<text x="298.8" y="347.05" font-size="8" text-anchor="end" >500</text>
<line x1="302" y1="358.5" x2="305.57" y2="358.5" stroke="#1a1a1a" stroke-width="1.15" stroke-linecap="butt"/>
<text x="298.8" y="361.4" font-size="8" text-anchor="end" >250</text>
<line x1="302" y1="372.5" x2="305.57" y2="372.5" stroke="#1a1a1a" stroke-width="1.15" stroke-linecap="butt"/>
<text x="298.8" y="375.75" font-size="8" text-anchor="end" >0</text>
<rect x="308.5" y="319.75" width="6.8" height="12.25" fill="#a68cbc"/>
<rect x="308.5" y="344.2" width="6.8" height="28.12" fill="#a68cbc"/>
<rect x="319.1" y="351.66" width="6.8" height="20.66" fill="#b4d99c"/>
<rect x="329.7" y="365.27" width="6.8" height="7.06" fill="#d98199"/>
<rect x="340.4" y="366.13" width="6.8" height="6.2" fill="#9db0d2"/>
<line x1="311.9" y1="313.44" x2="311.9" y2="325.37" stroke="#4e1a6e" stroke-width="0.9" stroke-linecap="butt"/>
<line x1="310.3" y1="313.44" x2="313.5" y2="313.44" stroke="#4e1a6e" stroke-width="0.9" stroke-linecap="butt"/>
<circle cx="311.9" cy="313.44" r="1.59" fill="#4e1a6e"/>
<circle cx="313.5" cy="320.64" r="1.59" fill="#4e1a6e"/>
<circle cx="310.7" cy="324.42" r="1.59" fill="#4e1a6e"/>
<rect x="319.97" y="350.13" width="3.06" height="3.06" fill="#4aa636"/>
<rect x="321.97" y="350.13" width="3.06" height="3.06" fill="#4aa636"/>
<path d="M332.1 363.39L333.78 366.51L330.42 366.51Z" fill="#c0113a"/>
<path d="M334.1 363.39L335.78 366.51L332.42 366.51Z" fill="#c0113a"/>
<path d="M342.8 368L344.48 364.88L341.12 364.88Z" fill="#213f85"/>
<path d="M344.8 368L346.48 364.88L343.12 364.88Z" fill="#213f85"/>
<line x1="302" y1="372.5" x2="351.3" y2="372.5" stroke="#1a1a1a" stroke-width="1.15" stroke-linecap="butt"/>
<line x1="312" y1="295.5" x2="344.8" y2="295.5" stroke="#333" stroke-width="1.1" stroke-linecap="butt"/>
<circle cx="325.5" cy="292.75" r="0.95" fill="#1a1a1a"/>
<circle cx="328.5" cy="292.75" r="0.95" fill="#1a1a1a"/>
<circle cx="331.5" cy="292.75" r="0.95" fill="#1a1a1a"/>
<line x1="312" y1="302.5" x2="334.9" y2="302.5" stroke="#333" stroke-width="1.1" stroke-linecap="butt"/>
<circle cx="321.2" cy="299.75" r="0.95" fill="#1a1a1a"/>
<circle cx="324.2" cy="299.75" r="0.95" fill="#1a1a1a"/>
<circle cx="327.2" cy="299.75" r="0.95" fill="#1a1a1a"/>
<line x1="312.5" y1="310.5" x2="322.1" y2="310.5" stroke="#333" stroke-width="1.1" stroke-linecap="butt"/>
<circle cx="314.6" cy="307.75" r="0.95" fill="#1a1a1a"/>
<circle cx="317.6" cy="307.75" r="0.95" fill="#1a1a1a"/>
<circle cx="320.6" cy="307.75" r="0.95" fill="#1a1a1a"/>
<line x1="322.6" y1="340.5" x2="344.8" y2="340.5" stroke="#333" stroke-width="1.1" stroke-linecap="butt"/>
<circle cx="333.3" cy="337.75" r="0.95" fill="#1a1a1a"/>
<line x1="322.9" y1="348.5" x2="333.6" y2="348.5" stroke="#333" stroke-width="1.1" stroke-linecap="butt"/>
<circle cx="328.8" cy="345.75" r="0.95" fill="#1a1a1a"/>
<line x1="385.5" y1="301.5" x2="385.5" y2="372.9" stroke="#1a1a1a" stroke-width="1.15" stroke-linecap="butt"/>
<line x1="382.4" y1="302.5" x2="385.97" y2="302.5" stroke="#1a1a1a" stroke-width="1.15" stroke-linecap="butt"/>
<text x="379.2" y="305.35" font-size="8" text-anchor="end" >1000</text>
<line x1="382.4" y1="316.5" x2="385.97" y2="316.5" stroke="#1a1a1a" stroke-width="1.15" stroke-linecap="butt"/>
<text x="379.2" y="319.43" font-size="8" text-anchor="end" >800</text>
<line x1="382.4" y1="330.5" x2="385.97" y2="330.5" stroke="#1a1a1a" stroke-width="1.15" stroke-linecap="butt"/>
<text x="379.2" y="333.51" font-size="8" text-anchor="end" >600</text>
<line x1="382.4" y1="344.5" x2="385.97" y2="344.5" stroke="#1a1a1a" stroke-width="1.15" stroke-linecap="butt"/>
<text x="379.2" y="347.59" font-size="8" text-anchor="end" >400</text>
<line x1="382.4" y1="358.5" x2="385.97" y2="358.5" stroke="#1a1a1a" stroke-width="1.15" stroke-linecap="butt"/>
<text x="379.2" y="361.67" font-size="8" text-anchor="end" >200</text>
<line x1="382.4" y1="372.5" x2="385.97" y2="372.5" stroke="#1a1a1a" stroke-width="1.15" stroke-linecap="butt"/>
<text x="379.2" y="375.75" font-size="8" text-anchor="end" >0</text>
<line x1="382.4" y1="372.5" x2="431.7" y2="372.5" stroke="#1a1a1a" stroke-width="1.15" stroke-linecap="butt"/>
<rect x="389.4" y="321.72" width="6.8" height="50.61" fill="#a68cbc"/>
<rect x="400" y="344.88" width="6.8" height="27.44" fill="#b4d99c"/>
<rect x="410.6" y="365.02" width="6.8" height="7.31" fill="#d98199"/>
<rect x="421.3" y="369.8" width="6.8" height="2.52" fill="#9db0d2"/>
<circle cx="391.8" cy="321.16" r="1.59" fill="#4e1a6e"/>
<circle cx="393.8" cy="322.07" r="1.59" fill="#4e1a6e"/>
<rect x="400.87" y="343.21" width="3.06" height="3.06" fill="#4aa636"/>
<rect x="402.87" y="343.49" width="3.06" height="3.06" fill="#4aa636"/>
<path d="M414 359.76L415.68 362.88L412.32 362.88Z" fill="#c0113a"/>
<path d="M413 362.58L414.68 365.7L411.32 365.7Z" fill="#c0113a"/>
<path d="M415 364.34L416.68 367.46L413.32 367.46Z" fill="#c0113a"/>
<path d="M423.7 370.55L425.38 367.43L422.02 367.43Z" fill="#213f85"/>
<path d="M425.7 371.67L427.38 368.55L424.02 368.55Z" fill="#213f85"/>
<line x1="392.7" y1="301.5" x2="425.5" y2="301.5" stroke="#333" stroke-width="1.1" stroke-linecap="butt"/>
<circle cx="408" cy="298.75" r="0.95" fill="#1a1a1a"/>
<circle cx="411" cy="298.75" r="0.95" fill="#1a1a1a"/>
<line x1="392.7" y1="308.5" x2="415.6" y2="308.5" stroke="#333" stroke-width="1.1" stroke-linecap="butt"/>
<circle cx="401.9" cy="305.75" r="0.95" fill="#1a1a1a"/>
<circle cx="404.9" cy="305.75" r="0.95" fill="#1a1a1a"/>
<line x1="393" y1="316.5" x2="402.4" y2="316.5" stroke="#333" stroke-width="1.1" stroke-linecap="butt"/>
<circle cx="396.5" cy="313.75" r="0.95" fill="#1a1a1a"/>
<circle cx="399.5" cy="313.75" r="0.95" fill="#1a1a1a"/>
<line x1="403.1" y1="333.5" x2="425.5" y2="333.5" stroke="#333" stroke-width="1.1" stroke-linecap="butt"/>
<circle cx="412.1" cy="330.75" r="0.95" fill="#1a1a1a"/>
<circle cx="415.1" cy="330.75" r="0.95" fill="#1a1a1a"/>
<circle cx="418.1" cy="330.75" r="0.95" fill="#1a1a1a"/>
<line x1="403.4" y1="340.5" x2="414.6" y2="340.5" stroke="#333" stroke-width="1.1" stroke-linecap="butt"/>
<circle cx="407.3" cy="337.75" r="0.95" fill="#1a1a1a"/>
<circle cx="410.3" cy="337.75" r="0.95" fill="#1a1a1a"/>
<circle cx="413.3" cy="337.75" r="0.95" fill="#1a1a1a"/>
<line x1="466.5" y1="301.2" x2="466.5" y2="372.9" stroke="#1a1a1a" stroke-width="1.15" stroke-linecap="butt"/>
<line x1="463.25" y1="303.5" x2="466.82" y2="303.5" stroke="#1a1a1a" stroke-width="1.15" stroke-linecap="butt"/>
<text x="460.05" y="306.45" font-size="8" text-anchor="end" >2000</text>
<line x1="463.25" y1="320.5" x2="466.82" y2="320.5" stroke="#1a1a1a" stroke-width="1.15" stroke-linecap="butt"/>
<text x="460.05" y="323.77" font-size="8" text-anchor="end" >1500</text>
<line x1="463.25" y1="338.5" x2="466.82" y2="338.5" stroke="#1a1a1a" stroke-width="1.15" stroke-linecap="butt"/>
<text x="460.05" y="341.1" font-size="8" text-anchor="end" >1000</text>
<line x1="463.25" y1="355.5" x2="466.82" y2="355.5" stroke="#1a1a1a" stroke-width="1.15" stroke-linecap="butt"/>
<text x="460.05" y="358.43" font-size="8" text-anchor="end" >500</text>
<line x1="463.25" y1="372.5" x2="466.82" y2="372.5" stroke="#1a1a1a" stroke-width="1.15" stroke-linecap="butt"/>
<text x="460.05" y="375.75" font-size="8" text-anchor="end" >0</text>
<line x1="463.25" y1="372.5" x2="512.55" y2="372.5" stroke="#1a1a1a" stroke-width="1.15" stroke-linecap="butt"/>
<rect x="470.25" y="315.52" width="6.8" height="56.81" fill="#a68cbc"/>
<rect x="480.85" y="360.18" width="6.8" height="12.14" fill="#b4d99c"/>
<rect x="491.45" y="358.59" width="6.8" height="13.74" fill="#d98199"/>
<rect x="502.15" y="368.81" width="6.8" height="3.51" fill="#9db0d2"/>
<circle cx="472.65" cy="315.03" r="1.59" fill="#4e1a6e"/>
<circle cx="474.65" cy="315.73" r="1.59" fill="#4e1a6e"/>
<rect x="481.72" y="358.55" width="3.06" height="3.06" fill="#4aa636"/>
<rect x="483.72" y="358.72" width="3.06" height="3.06" fill="#4aa636"/>
<path d="M493.85 356.47L495.53 359.59L492.17 359.59Z" fill="#c0113a"/>
<path d="M495.85 356.82L497.53 359.94L494.17 359.94Z" fill="#c0113a"/>
<path d="M504.55 370.44L506.23 367.32L502.87 367.32Z" fill="#213f85"/>
<path d="M506.55 370.79L508.23 367.67L504.87 367.67Z" fill="#213f85"/>
<line x1="473.5" y1="297.5" x2="506.6" y2="297.5" stroke="#333" stroke-width="1.1" stroke-linecap="butt"/>
<circle cx="489.6" cy="294.75" r="0.95" fill="#1a1a1a"/>
<circle cx="492.6" cy="294.75" r="0.95" fill="#1a1a1a"/>
<line x1="473.5" y1="304.5" x2="496.7" y2="304.5" stroke="#333" stroke-width="1.1" stroke-linecap="butt"/>
<circle cx="483.2" cy="301.75" r="0.95" fill="#1a1a1a"/>
<circle cx="486.2" cy="301.75" r="0.95" fill="#1a1a1a"/>
<line x1="474" y1="311.5" x2="483.1" y2="311.5" stroke="#333" stroke-width="1.1" stroke-linecap="butt"/>
<circle cx="477.1" cy="308.75" r="0.95" fill="#1a1a1a"/>
<circle cx="480.1" cy="308.75" r="0.95" fill="#1a1a1a"/>
<line x1="483.4" y1="345.5" x2="503.9" y2="345.5" stroke="#333" stroke-width="1.1" stroke-linecap="butt"/>
<circle cx="492" cy="342.75" r="0.95" fill="#1a1a1a"/>
<circle cx="495" cy="342.75" r="0.95" fill="#1a1a1a"/>
<line x1="483.4" y1="354.5" x2="494.6" y2="354.5" stroke="#333" stroke-width="1.1" stroke-linecap="butt"/>
<text x="489.2" y="353.1" font-size="8" text-anchor="middle" font-style="italic" fill="#444" style="stroke-width:0">ns</text>
<circle cx="169.6" cy="390.8" r="1.96" fill="#4e1a6e"/>
<text x="175" y="393.4" font-size="7.6" >DMSO</text>
<rect x="210.1" y="389.1" width="3.4" height="3.4" fill="#5fb04a"/>
<text x="217.1" y="393.3" font-size="7.35" >umbralisib</text>
<path d="M262.7 389.07L264.52 392.45L260.88 392.45Z" fill="#c0113a"/>
<text x="268.1" y="393.3" font-size="7.35" >idelalisib</text>
<path d="M307.3 393.03L309.12 389.65L305.48 389.65Z" fill="#213f85"/>
<text x="311.9" y="393.3" font-size="7.35" >duvelisib</text>
<text x="7.6" y="420.4" font-size="11.5" font-weight="bold" >E</text>
<text x="150.2" y="421.8" font-size="9.4" text-anchor="middle" >Normal donors</text>
<text x="72.6" y="434.2" font-size="7.6" text-anchor="middle" font-style="italic" >TBET</text>
<text x="149" y="434.2" font-size="7.6" text-anchor="middle" font-style="italic" >GATA-3</text>
<text x="224.3" y="434.2" font-size="7.6" text-anchor="middle" font-style="italic" >FOXP3</text>
<text transform="translate(14.37,482.4) rotate(-90)" font-size="9" text-anchor="middle" textLength="23.5" lengthAdjust="spacingAndGlyphs" style="stroke-width:0.45px">Relative</text>
<text transform="translate(26.07,483.3) rotate(-90)" font-size="9" text-anchor="middle" textLength="51.7" lengthAdjust="spacingAndGlyphs" style="stroke-width:0.45px">mRNA expression</text>
<line x1="49.5" y1="446.4" x2="49.5" y2="518" stroke="#1a1a1a" stroke-width="1.15" stroke-linecap="butt"/>
<line x1="46.3" y1="449.5" x2="49.88" y2="449.5" stroke="#1a1a1a" stroke-width="1.15" stroke-linecap="butt"/>
<text x="43.1" y="451.95" font-size="8" text-anchor="end" >2.5</text>
<line x1="46.3" y1="462.5" x2="49.88" y2="462.5" stroke="#1a1a1a" stroke-width="1.15" stroke-linecap="butt"/>
<text x="43.1" y="465.73" font-size="8" text-anchor="end" >2.0</text>
<line x1="46.3" y1="476.5" x2="49.88" y2="476.5" stroke="#1a1a1a" stroke-width="1.15" stroke-linecap="butt"/>
<text x="43.1" y="479.51" font-size="8" text-anchor="end" >1.5</text>
<line x1="46.3" y1="490.5" x2="49.88" y2="490.5" stroke="#1a1a1a" stroke-width="1.15" stroke-linecap="butt"/>
<text x="43.1" y="493.29" font-size="8" text-anchor="end" >1.0</text>
<line x1="46.3" y1="504.5" x2="49.88" y2="504.5" stroke="#1a1a1a" stroke-width="1.15" stroke-linecap="butt"/>
<text x="43.1" y="507.07" font-size="8" text-anchor="end" >0.5</text>
<line x1="46.3" y1="518.5" x2="49.88" y2="518.5" stroke="#1a1a1a" stroke-width="1.15" stroke-linecap="butt"/>
<text x="43.1" y="520.85" font-size="8" text-anchor="end" >0.0</text>
<line x1="46.3" y1="518.5" x2="95.6" y2="518.5" stroke="#1a1a1a" stroke-width="1.15" stroke-linecap="butt"/>
<rect x="53.3" y="474.73" width="6.8" height="42.69" fill="#a68cbc"/>
<rect x="63.9" y="510.56" width="6.8" height="6.87" fill="#b4d99c"/>
<rect x="74.5" y="512.21" width="6.8" height="5.21" fill="#d98199"/>
<rect x="85.2" y="503.94" width="6.8" height="13.48" fill="#9db0d2"/>
<line x1="56.7" y1="464.81" x2="56.7" y2="484.1" stroke="#4e1a6e" stroke-width="0.75" stroke-linecap="butt"/>
<line x1="55.1" y1="464.81" x2="58.3" y2="464.81" stroke="#4e1a6e" stroke-width="0.85" stroke-linecap="butt"/>
<line x1="55.1" y1="484.1" x2="58.3" y2="484.1" stroke="#4e1a6e" stroke-width="0.85" stroke-linecap="butt"/>
<line x1="77.9" y1="508.63" x2="77.9" y2="515.8" stroke="#c0113a" stroke-width="0.75" stroke-linecap="butt"/>
<line x1="76.3" y1="508.63" x2="79.5" y2="508.63" stroke="#c0113a" stroke-width="0.85" stroke-linecap="butt"/>
<line x1="76.3" y1="515.8" x2="79.5" y2="515.8" stroke="#c0113a" stroke-width="0.85" stroke-linecap="butt"/>
<line x1="88.6" y1="498.71" x2="88.6" y2="508.35" stroke="#213f85" stroke-width="0.75" stroke-linecap="butt"/>
<line x1="87" y1="498.71" x2="90.2" y2="498.71" stroke="#213f85" stroke-width="0.85" stroke-linecap="butt"/>
<line x1="87" y1="508.35" x2="90.2" y2="508.35" stroke="#213f85" stroke-width="0.85" stroke-linecap="butt"/>
<circle cx="56.7" cy="464.81" r="1.59" fill="#4e1a6e"/>
<circle cx="55.7" cy="479.42" r="1.59" fill="#4e1a6e"/>
<circle cx="57.7" cy="482.17" r="1.59" fill="#4e1a6e"/>
<rect x="65.77" y="506.55" width="3.06" height="3.06" fill="#4aa636"/>
<rect x="64.77" y="509.58" width="3.06" height="3.06" fill="#4aa636"/>
<rect x="66.77" y="510.41" width="3.06" height="3.06" fill="#4aa636"/>
<path d="M77.9 507.03L79.58 510.15L76.22 510.15Z" fill="#c0113a"/>
<path d="M77.9 510.62L79.58 513.74L76.22 513.74Z" fill="#c0113a"/>
<path d="M77.9 512.82L79.58 515.94L76.22 515.94Z" fill="#c0113a"/>
<path d="M88.6 500.86L90.28 497.74L86.92 497.74Z" fill="#213f85"/>
<path d="M87.6 506.09L89.28 502.97L85.92 502.97Z" fill="#213f85"/>
<path d="M89.6 508.85L91.28 505.73L87.92 505.73Z" fill="#213f85"/>
<line x1="56.5" y1="518" x2="56.5" y2="521" stroke="#1a1a1a" stroke-width="1.15" stroke-linecap="butt"/>
<line x1="67.5" y1="518" x2="67.5" y2="521" stroke="#1a1a1a" stroke-width="1.15" stroke-linecap="butt"/>
<line x1="77.5" y1="518" x2="77.5" y2="521" stroke="#1a1a1a" stroke-width="1.15" stroke-linecap="butt"/>
<line x1="88.5" y1="518" x2="88.5" y2="521" stroke="#1a1a1a" stroke-width="1.15" stroke-linecap="butt"/>
<line x1="57.2" y1="446.5" x2="88.1" y2="446.5" stroke="#333" stroke-width="1.1" stroke-linecap="butt"/>
<circle cx="70.7" cy="443.75" r="0.95" fill="#1a1a1a"/>
<circle cx="73.7" cy="443.75" r="0.95" fill="#1a1a1a"/>
<circle cx="76.7" cy="443.75" r="0.95" fill="#1a1a1a"/>
<line x1="57.2" y1="453.5" x2="75.8" y2="453.5" stroke="#333" stroke-width="1.1" stroke-linecap="butt"/>
<circle cx="65.9" cy="450.75" r="0.95" fill="#1a1a1a"/>
<circle cx="68.9" cy="450.75" r="0.95" fill="#1a1a1a"/>
<circle cx="71.9" cy="450.75" r="0.95" fill="#1a1a1a"/>
<line x1="57.2" y1="460.5" x2="66.5" y2="460.5" stroke="#333" stroke-width="1.1" stroke-linecap="butt"/>
<circle cx="59" cy="457.75" r="0.95" fill="#1a1a1a"/>
<circle cx="62" cy="457.75" r="0.95" fill="#1a1a1a"/>
<circle cx="65" cy="457.75" r="0.95" fill="#1a1a1a"/>
<line x1="66.8" y1="492.5" x2="87.8" y2="492.5" stroke="#333" stroke-width="1.1" stroke-linecap="butt"/>
<text x="77.2" y="491.1" font-size="8" text-anchor="middle" font-style="italic" fill="#444" style="stroke-width:0">ns</text>
<line x1="66.8" y1="503.5" x2="77.4" y2="503.5" stroke="#333" stroke-width="1.1" stroke-linecap="butt"/>
<text x="72.9" y="502.1" font-size="8" text-anchor="middle" font-style="italic" fill="#444" style="stroke-width:0">ns</text>
<text transform="translate(58.7,527.6) rotate(-45)" font-size="8.6" text-anchor="end">DMSO</text>
<text transform="translate(69.3,526.8) rotate(-45)" font-size="7.5" text-anchor="end">umbralisib</text>
<text transform="translate(79.9,526.8) rotate(-45)" font-size="7.5" text-anchor="end">idelalisib</text>
<text transform="translate(90.6,526.8) rotate(-45)" font-size="7.5" text-anchor="end">duvelisib</text>
<line x1="125.5" y1="446.7" x2="125.5" y2="518" stroke="#1a1a1a" stroke-width="1.15" stroke-linecap="butt"/>
<line x1="122.3" y1="449.5" x2="125.88" y2="449.5" stroke="#1a1a1a" stroke-width="1.15" stroke-linecap="butt"/>
<text x="119.1" y="451.95" font-size="8" text-anchor="end" >3</text>
<line x1="122.3" y1="472.5" x2="125.88" y2="472.5" stroke="#1a1a1a" stroke-width="1.15" stroke-linecap="butt"/>
<text x="119.1" y="474.92" font-size="8" text-anchor="end" >2</text>
<line x1="122.3" y1="495.5" x2="125.88" y2="495.5" stroke="#1a1a1a" stroke-width="1.15" stroke-linecap="butt"/>
<text x="119.1" y="497.88" font-size="8" text-anchor="end" >1</text>
<line x1="122.3" y1="518.5" x2="125.88" y2="518.5" stroke="#1a1a1a" stroke-width="1.15" stroke-linecap="butt"/>
<text x="119.1" y="520.85" font-size="8" text-anchor="end" >0</text>
<line x1="122.3" y1="518.5" x2="171.6" y2="518.5" stroke="#1a1a1a" stroke-width="1.15" stroke-linecap="butt"/>
<rect x="129.3" y="490.44" width="6.8" height="26.99" fill="#a68cbc"/>
<rect x="139.9" y="501.69" width="6.8" height="15.73" fill="#b4d99c"/>
<rect x="150.5" y="504.91" width="6.8" height="12.52" fill="#d98199"/>
<rect x="161.2" y="508.12" width="6.8" height="9.3" fill="#9db0d2"/>
<line x1="132.7" y1="467.24" x2="132.7" y2="512.49" stroke="#4e1a6e" stroke-width="0.75" stroke-linecap="butt"/>
<line x1="131.1" y1="467.24" x2="134.3" y2="467.24" stroke="#4e1a6e" stroke-width="0.85" stroke-linecap="butt"/>
<line x1="131.1" y1="512.49" x2="134.3" y2="512.49" stroke="#4e1a6e" stroke-width="0.85" stroke-linecap="butt"/>
<line x1="153.9" y1="500.55" x2="153.9" y2="508.81" stroke="#c0113a" stroke-width="0.75" stroke-linecap="butt"/>
<line x1="152.3" y1="500.55" x2="155.5" y2="500.55" stroke="#c0113a" stroke-width="0.85" stroke-linecap="butt"/>
<line x1="152.3" y1="508.81" x2="155.5" y2="508.81" stroke="#c0113a" stroke-width="0.85" stroke-linecap="butt"/>
<line x1="164.6" y1="505.37" x2="164.6" y2="511.11" stroke="#213f85" stroke-width="0.75" stroke-linecap="butt"/>
<line x1="163" y1="505.37" x2="166.2" y2="505.37" stroke="#213f85" stroke-width="0.85" stroke-linecap="butt"/>
<line x1="163" y1="511.11" x2="166.2" y2="511.11" stroke="#213f85" stroke-width="0.85" stroke-linecap="butt"/>
<circle cx="132.7" cy="464.49" r="1.59" fill="#4e1a6e"/>
<circle cx="132.7" cy="499.63" r="1.59" fill="#4e1a6e"/>
<circle cx="132.7" cy="505.37" r="1.59" fill="#4e1a6e"/>
<rect x="140.77" y="499.25" width="3.06" height="3.06" fill="#4aa636"/>
<rect x="142.77" y="500.85" width="3.06" height="3.06" fill="#4aa636"/>
<path d="M153.9 498.67L155.58 501.79L152.22 501.79Z" fill="#c0113a"/>
<path d="M154.9 502.35L156.58 505.47L153.22 505.47Z" fill="#c0113a"/>
<path d="M153.9 505.79L155.58 508.91L152.22 508.91Z" fill="#c0113a"/>
<path d="M164.6 507.24L166.28 504.12L162.92 504.12Z" fill="#213f85"/>
<path d="M164.6 511.14L166.28 508.02L162.92 508.02Z" fill="#213f85"/>
<line x1="132.5" y1="518" x2="132.5" y2="521" stroke="#1a1a1a" stroke-width="1.15" stroke-linecap="butt"/>
<line x1="143.5" y1="518" x2="143.5" y2="521" stroke="#1a1a1a" stroke-width="1.15" stroke-linecap="butt"/>
<line x1="153.5" y1="518" x2="153.5" y2="521" stroke="#1a1a1a" stroke-width="1.15" stroke-linecap="butt"/>
<line x1="164.5" y1="518" x2="164.5" y2="521" stroke="#1a1a1a" stroke-width="1.15" stroke-linecap="butt"/>
<line x1="132.9" y1="446.5" x2="164.9" y2="446.5" stroke="#333" stroke-width="1.1" stroke-linecap="butt"/>
<text x="148.9" y="445.1" font-size="8" text-anchor="middle" font-style="italic" fill="#444" style="stroke-width:0">ns</text>
<line x1="132.9" y1="454.5" x2="154.8" y2="454.5" stroke="#333" stroke-width="1.1" stroke-linecap="butt"/>
<text x="144.9" y="453.1" font-size="8" text-anchor="middle" font-style="italic" fill="#444" style="stroke-width:0">ns</text>
<line x1="132.9" y1="461.5" x2="144.1" y2="461.5" stroke="#333" stroke-width="1.1" stroke-linecap="butt"/>
<text x="139" y="460.1" font-size="8" text-anchor="middle" font-style="italic" fill="#444" style="stroke-width:0">ns</text>
<line x1="143.3" y1="486.5" x2="164.9" y2="486.5" stroke="#333" stroke-width="1.1" stroke-linecap="butt"/>
<text x="154.2" y="485.1" font-size="8" text-anchor="middle" font-style="italic" fill="#444" style="stroke-width:0">ns</text>
<line x1="143.3" y1="494.5" x2="153.7" y2="494.5" stroke="#333" stroke-width="1.1" stroke-linecap="butt"/>
<text x="147.8" y="493.1" font-size="8" text-anchor="middle" font-style="italic" fill="#444" style="stroke-width:0">ns</text>
<text transform="translate(134.7,527.6) rotate(-45)" font-size="8.6" text-anchor="end">DMSO</text>
<text transform="translate(145.3,526.8) rotate(-45)" font-size="7.5" text-anchor="end">umbralisib</text>
<text transform="translate(155.9,526.8) rotate(-45)" font-size="7.5" text-anchor="end">idelalisib</text>
<text transform="translate(166.6,526.8) rotate(-45)" font-size="7.5" text-anchor="end">duvelisib</text>
<line x1="201.5" y1="446.7" x2="201.5" y2="518" stroke="#1a1a1a" stroke-width="1.15" stroke-linecap="butt"/>
<line x1="198.1" y1="449.5" x2="201.67" y2="449.5" stroke="#1a1a1a" stroke-width="1.15" stroke-linecap="butt"/>
<text x="194.9" y="451.95" font-size="8" text-anchor="end" >2.5</text>
<line x1="198.1" y1="462.5" x2="201.67" y2="462.5" stroke="#1a1a1a" stroke-width="1.15" stroke-linecap="butt"/>
<text x="194.9" y="465.73" font-size="8" text-anchor="end" >2.0</text>
<line x1="198.1" y1="476.5" x2="201.67" y2="476.5" stroke="#1a1a1a" stroke-width="1.15" stroke-linecap="butt"/>
<text x="194.9" y="479.51" font-size="8" text-anchor="end" >1.5</text>
<line x1="198.1" y1="490.5" x2="201.67" y2="490.5" stroke="#1a1a1a" stroke-width="1.15" stroke-linecap="butt"/>
<text x="194.9" y="493.29" font-size="8" text-anchor="end" >1.0</text>
<line x1="198.1" y1="504.5" x2="201.67" y2="504.5" stroke="#1a1a1a" stroke-width="1.15" stroke-linecap="butt"/>
<text x="194.9" y="507.07" font-size="8" text-anchor="end" >0.5</text>
<line x1="198.1" y1="518.5" x2="201.67" y2="518.5" stroke="#1a1a1a" stroke-width="1.15" stroke-linecap="butt"/>
<text x="194.9" y="520.85" font-size="8" text-anchor="end" >0.0</text>
<line x1="198.1" y1="518.5" x2="247.4" y2="518.5" stroke="#1a1a1a" stroke-width="1.15" stroke-linecap="butt"/>
<rect x="205.1" y="475.28" width="6.8" height="42.14" fill="#a68cbc"/>
<rect x="215.7" y="500.09" width="6.8" height="17.34" fill="#b4d99c"/>
<rect x="226.3" y="512.21" width="6.8" height="5.21" fill="#d98199"/>
<rect x="237" y="513.59" width="6.8" height="3.83" fill="#9db0d2"/>
<line x1="208.5" y1="466.46" x2="208.5" y2="482.17" stroke="#4e1a6e" stroke-width="0.75" stroke-linecap="butt"/>
<line x1="206.9" y1="466.46" x2="210.1" y2="466.46" stroke="#4e1a6e" stroke-width="0.85" stroke-linecap="butt"/>
<line x1="206.9" y1="482.17" x2="210.1" y2="482.17" stroke="#4e1a6e" stroke-width="0.85" stroke-linecap="butt"/>
<circle cx="208.5" cy="466.46" r="1.59" fill="#4e1a6e"/>
<circle cx="209.5" cy="476.66" r="1.59" fill="#4e1a6e"/>
<circle cx="207.5" cy="481.62" r="1.59" fill="#4e1a6e"/>
<rect x="216.57" y="498" width="3.06" height="3.06" fill="#4aa636"/>
<rect x="218.57" y="498.83" width="3.06" height="3.06" fill="#4aa636"/>
<path d="M228.7 509.51L230.38 512.63L227.02 512.63Z" fill="#c0113a"/>
<path d="M230.7 510.62L232.38 513.74L229.02 513.74Z" fill="#c0113a"/>
<path d="M239.4 514.36L241.08 511.24L237.72 511.24Z" fill="#213f85"/>
<path d="M241.4 514.91L243.08 511.79L239.72 511.79Z" fill="#213f85"/>
<line x1="208.5" y1="518" x2="208.5" y2="521" stroke="#1a1a1a" stroke-width="1.15" stroke-linecap="butt"/>
<line x1="219.5" y1="518" x2="219.5" y2="521" stroke="#1a1a1a" stroke-width="1.15" stroke-linecap="butt"/>
<line x1="229.5" y1="518" x2="229.5" y2="521" stroke="#1a1a1a" stroke-width="1.15" stroke-linecap="butt"/>
<line x1="240.5" y1="518" x2="240.5" y2="521" stroke="#1a1a1a" stroke-width="1.15" stroke-linecap="butt"/>
<line x1="208.2" y1="447.5" x2="241" y2="447.5" stroke="#333" stroke-width="1.1" stroke-linecap="butt"/>
<circle cx="222.5" cy="444.75" r="0.95" fill="#1a1a1a"/>
<circle cx="225.5" cy="444.75" r="0.95" fill="#1a1a1a"/>
<circle cx="228.5" cy="444.75" r="0.95" fill="#1a1a1a"/>
<line x1="208.2" y1="455.5" x2="230" y2="455.5" stroke="#333" stroke-width="1.1" stroke-linecap="butt"/>
<circle cx="217.2" cy="452.75" r="0.95" fill="#1a1a1a"/>
<circle cx="220.2" cy="452.75" r="0.95" fill="#1a1a1a"/>
<circle cx="223.2" cy="452.75" r="0.95" fill="#1a1a1a"/>
<line x1="208.7" y1="463.5" x2="218" y2="463.5" stroke="#333" stroke-width="1.1" stroke-linecap="butt"/>
<circle cx="210.5" cy="460.75" r="0.95" fill="#1a1a1a"/>
<circle cx="213.5" cy="460.75" r="0.95" fill="#1a1a1a"/>
<circle cx="216.5" cy="460.75" r="0.95" fill="#1a1a1a"/>
<line x1="218.6" y1="489.5" x2="240.4" y2="489.5" stroke="#333" stroke-width="1.1" stroke-linecap="butt"/>
<circle cx="229.5" cy="486.75" r="0.95" fill="#1a1a1a"/>
<line x1="218.6" y1="496.5" x2="230.3" y2="496.5" stroke="#333" stroke-width="1.1" stroke-linecap="butt"/>
<circle cx="224.7" cy="493.75" r="0.95" fill="#1a1a1a"/>
<text transform="translate(210.5,527.6) rotate(-45)" font-size="8.6" text-anchor="end">DMSO</text>
<text transform="translate(221.1,526.8) rotate(-45)" font-size="7.5" text-anchor="end">umbralisib</text>
<text transform="translate(231.7,526.8) rotate(-45)" font-size="7.5" text-anchor="end">idelalisib</text>
<text transform="translate(242.4,526.8) rotate(-45)" font-size="7.5" text-anchor="end">duvelisib</text>
<text x="263" y="420.7" font-size="11.5" font-weight="bold" >F</text>
<text x="410.8" y="422.2" font-size="9.4" text-anchor="middle" >CLL patients</text>
<text x="328.3" y="434.2" font-size="7.6" text-anchor="middle" font-style="italic" >TBET</text>
<text x="412.2" y="434.2" font-size="7.6" text-anchor="middle" font-style="italic" >GATA-3</text>
<text x="489.3" y="434.2" font-size="7.6" text-anchor="middle" font-style="italic" >FOXP3</text>
<text transform="translate(270.87,482.4) rotate(-90)" font-size="9" text-anchor="middle" textLength="23.5" lengthAdjust="spacingAndGlyphs" style="stroke-width:0.45px">Relative</text>
<text transform="translate(282.37,483.3) rotate(-90)" font-size="9" text-anchor="middle" textLength="51.7" lengthAdjust="spacingAndGlyphs" style="stroke-width:0.45px">mRNA expression</text>
<line x1="305.5" y1="446.7" x2="305.5" y2="518" stroke="#1a1a1a" stroke-width="1.15" stroke-linecap="butt"/>
<line x1="302" y1="449.5" x2="305.57" y2="449.5" stroke="#1a1a1a" stroke-width="1.15" stroke-linecap="butt"/>
<text x="298.8" y="451.95" font-size="8" text-anchor="end" >2.0</text>
<line x1="302" y1="466.5" x2="305.57" y2="466.5" stroke="#1a1a1a" stroke-width="1.15" stroke-linecap="butt"/>
<text x="298.8" y="469.18" font-size="8" text-anchor="end" >1.5</text>
<line x1="302" y1="483.5" x2="305.57" y2="483.5" stroke="#1a1a1a" stroke-width="1.15" stroke-linecap="butt"/>
<text x="298.8" y="486.4" font-size="8" text-anchor="end" >1.0</text>
<line x1="302" y1="500.5" x2="305.57" y2="500.5" stroke="#1a1a1a" stroke-width="1.15" stroke-linecap="butt"/>
<text x="298.8" y="503.62" font-size="8" text-anchor="end" >0.5</text>
<line x1="302" y1="518.5" x2="305.57" y2="518.5" stroke="#1a1a1a" stroke-width="1.15" stroke-linecap="butt"/>
<text x="298.8" y="520.85" font-size="8" text-anchor="end" >0.0</text>
<line x1="302" y1="518.5" x2="350.7" y2="518.5" stroke="#1a1a1a" stroke-width="1.15" stroke-linecap="butt"/>
<rect x="308.4" y="481.83" width="6.8" height="35.6" fill="#a68cbc"/>
<rect x="319" y="510.42" width="6.8" height="7" fill="#b4d99c"/>
<rect x="329.6" y="505.6" width="6.8" height="11.83" fill="#d98199"/>
<rect x="340.3" y="513.87" width="6.8" height="3.56" fill="#9db0d2"/>
<line x1="311.8" y1="469.08" x2="311.8" y2="494.23" stroke="#4e1a6e" stroke-width="0.75" stroke-linecap="butt"/>
<line x1="310.2" y1="469.08" x2="313.4" y2="469.08" stroke="#4e1a6e" stroke-width="0.85" stroke-linecap="butt"/>
<line x1="310.2" y1="494.23" x2="313.4" y2="494.23" stroke="#4e1a6e" stroke-width="0.85" stroke-linecap="butt"/>
<line x1="333" y1="499.74" x2="333" y2="511.11" stroke="#c0113a" stroke-width="0.75" stroke-linecap="butt"/>
<line x1="331.4" y1="499.74" x2="334.6" y2="499.74" stroke="#c0113a" stroke-width="0.85" stroke-linecap="butt"/>
<line x1="331.4" y1="511.11" x2="334.6" y2="511.11" stroke="#c0113a" stroke-width="0.85" stroke-linecap="butt"/>
<line x1="343.7" y1="510.42" x2="343.7" y2="516.62" stroke="#213f85" stroke-width="0.75" stroke-linecap="butt"/>
<line x1="342.1" y1="510.42" x2="345.3" y2="510.42" stroke="#213f85" stroke-width="0.85" stroke-linecap="butt"/>
<line x1="342.1" y1="516.62" x2="345.3" y2="516.62" stroke="#213f85" stroke-width="0.85" stroke-linecap="butt"/>
<circle cx="311.8" cy="469.08" r="1.59" fill="#4e1a6e"/>
<circle cx="311.8" cy="483.55" r="1.59" fill="#4e1a6e"/>
<circle cx="311.8" cy="494.23" r="1.59" fill="#4e1a6e"/>
<rect x="319.87" y="508.2" width="3.06" height="3.06" fill="#4aa636"/>
<rect x="321.87" y="509.58" width="3.06" height="3.06" fill="#4aa636"/>
<rect x="320.87" y="510.61" width="3.06" height="3.06" fill="#4aa636"/>
<path d="M333 497.87L334.68 500.99L331.32 500.99Z" fill="#c0113a"/>
<path d="M334 504.07L335.68 507.19L332.32 507.19Z" fill="#c0113a"/>
<path d="M332 505.79L333.68 508.91L330.32 508.91Z" fill="#c0113a"/>
<path d="M343.7 512.29L345.38 509.17L342.02 509.17Z" fill="#213f85"/>
<path d="M344.7 515.74L346.38 512.62L343.02 512.62Z" fill="#213f85"/>
<path d="M342.7 517.12L344.38 514L341.02 514Z" fill="#213f85"/>
<line x1="311.5" y1="518" x2="311.5" y2="521" stroke="#1a1a1a" stroke-width="1.15" stroke-linecap="butt"/>
<line x1="322.5" y1="518" x2="322.5" y2="521" stroke="#1a1a1a" stroke-width="1.15" stroke-linecap="butt"/>
<line x1="333.5" y1="518" x2="333.5" y2="521" stroke="#1a1a1a" stroke-width="1.15" stroke-linecap="butt"/>
<line x1="343.5" y1="518" x2="343.5" y2="521" stroke="#1a1a1a" stroke-width="1.15" stroke-linecap="butt"/>
<line x1="312" y1="447.5" x2="345" y2="447.5" stroke="#333" stroke-width="1.1" stroke-linecap="butt"/>
<circle cx="328" cy="444.75" r="0.95" fill="#1a1a1a"/>
<line x1="312" y1="456.5" x2="331.2" y2="456.5" stroke="#333" stroke-width="1.1" stroke-linecap="butt"/>
<text x="322.9" y="455.1" font-size="8" text-anchor="middle" font-style="italic" fill="#444" style="stroke-width:0">ns</text>
<line x1="312" y1="464.5" x2="321.3" y2="464.5" stroke="#333" stroke-width="1.1" stroke-linecap="butt"/>
<circle cx="316.8" cy="461.75" r="0.95" fill="#1a1a1a"/>
<line x1="321.6" y1="481.5" x2="344" y2="481.5" stroke="#333" stroke-width="1.1" stroke-linecap="butt"/>
<text x="333.3" y="480.1" font-size="8" text-anchor="middle" font-style="italic" fill="#444" style="stroke-width:0">ns</text>
<line x1="321.6" y1="489.5" x2="332.2" y2="489.5" stroke="#333" stroke-width="1.1" stroke-linecap="butt"/>
<text x="327.4" y="488.1" font-size="8" text-anchor="middle" font-style="italic" fill="#444" style="stroke-width:0">ns</text>
<text transform="translate(313.8,527.6) rotate(-45)" font-size="8.6" text-anchor="end">DMSO</text>
<text transform="translate(324.4,526.8) rotate(-45)" font-size="7.5" text-anchor="end">umbralisib</text>
<text transform="translate(335,526.8) rotate(-45)" font-size="7.5" text-anchor="end">idelalisib</text>
<text transform="translate(345.7,526.8) rotate(-45)" font-size="7.5" text-anchor="end">duvelisib</text>
<line x1="389.5" y1="446.7" x2="389.5" y2="518" stroke="#1a1a1a" stroke-width="1.15" stroke-linecap="butt"/>
<line x1="386.2" y1="449.5" x2="389.77" y2="449.5" stroke="#1a1a1a" stroke-width="1.15" stroke-linecap="butt"/>
<text x="383" y="451.95" font-size="8" text-anchor="end" >1.5</text>
<line x1="386.2" y1="472.5" x2="389.77" y2="472.5" stroke="#1a1a1a" stroke-width="1.15" stroke-linecap="butt"/>
<text x="383" y="474.92" font-size="8" text-anchor="end" >1.0</text>
<line x1="386.2" y1="495.5" x2="389.77" y2="495.5" stroke="#1a1a1a" stroke-width="1.15" stroke-linecap="butt"/>
<text x="383" y="497.88" font-size="8" text-anchor="end" >0.5</text>
<line x1="386.2" y1="518.5" x2="389.77" y2="518.5" stroke="#1a1a1a" stroke-width="1.15" stroke-linecap="butt"/>
<text x="383" y="520.85" font-size="8" text-anchor="end" >0.0</text>
<line x1="386.2" y1="518.5" x2="435.1" y2="518.5" stroke="#1a1a1a" stroke-width="1.15" stroke-linecap="butt"/>
<rect x="392.8" y="472.53" width="6.8" height="44.9" fill="#a68cbc"/>
<rect x="403.4" y="496.41" width="6.8" height="21.01" fill="#b4d99c"/>
<rect x="414" y="485.85" width="6.8" height="31.58" fill="#d98199"/>
<rect x="424.7" y="506.06" width="6.8" height="11.37" fill="#9db0d2"/>
<line x1="396.2" y1="465.18" x2="396.2" y2="479.88" stroke="#4e1a6e" stroke-width="0.75" stroke-linecap="butt"/>
<line x1="394.6" y1="465.18" x2="397.8" y2="465.18" stroke="#4e1a6e" stroke-width="0.85" stroke-linecap="butt"/>
<line x1="394.6" y1="479.88" x2="397.8" y2="479.88" stroke="#4e1a6e" stroke-width="0.85" stroke-linecap="butt"/>
<line x1="406.8" y1="484.93" x2="406.8" y2="505.14" stroke="#4aa636" stroke-width="0.75" stroke-linecap="butt"/>
<line x1="405.2" y1="484.93" x2="408.4" y2="484.93" stroke="#4aa636" stroke-width="0.85" stroke-linecap="butt"/>
<line x1="405.2" y1="505.14" x2="408.4" y2="505.14" stroke="#4aa636" stroke-width="0.85" stroke-linecap="butt"/>
<line x1="417.4" y1="476.2" x2="417.4" y2="495.03" stroke="#c0113a" stroke-width="0.75" stroke-linecap="butt"/>
<line x1="415.8" y1="476.2" x2="419" y2="476.2" stroke="#c0113a" stroke-width="0.85" stroke-linecap="butt"/>
<line x1="415.8" y1="495.03" x2="419" y2="495.03" stroke="#c0113a" stroke-width="0.85" stroke-linecap="butt"/>
<line x1="428.1" y1="499.17" x2="428.1" y2="512.49" stroke="#213f85" stroke-width="0.75" stroke-linecap="butt"/>
<line x1="426.5" y1="499.17" x2="429.7" y2="499.17" stroke="#213f85" stroke-width="0.85" stroke-linecap="butt"/>
<line x1="426.5" y1="512.49" x2="429.7" y2="512.49" stroke="#213f85" stroke-width="0.85" stroke-linecap="butt"/>
<circle cx="396.2" cy="465.18" r="1.59" fill="#4e1a6e"/>
<circle cx="396.2" cy="472.07" r="1.59" fill="#4e1a6e"/>
<circle cx="396.2" cy="478.5" r="1.59" fill="#4e1a6e"/>
<rect x="405.27" y="483.4" width="3.06" height="3.06" fill="#4aa636"/>
<rect x="405.27" y="497.18" width="3.06" height="3.06" fill="#4aa636"/>
<rect x="405.27" y="502.69" width="3.06" height="3.06" fill="#4aa636"/>
<path d="M417.4 474.33L419.08 477.45L415.72 477.45Z" fill="#c0113a"/>
<path d="M416.4 487.65L418.08 490.77L414.72 490.77Z" fill="#c0113a"/>
<path d="M418.4 488.57L420.08 491.69L416.72 491.69Z" fill="#c0113a"/>
<path d="M428.1 501.04L429.78 497.92L426.42 497.92Z" fill="#213f85"/>
<path d="M428.1 508.39L429.78 505.27L426.42 505.27Z" fill="#213f85"/>
<path d="M428.1 513.44L429.78 510.32L426.42 510.32Z" fill="#213f85"/>
<line x1="396.5" y1="518" x2="396.5" y2="521" stroke="#1a1a1a" stroke-width="1.15" stroke-linecap="butt"/>
<line x1="406.5" y1="518" x2="406.5" y2="521" stroke="#1a1a1a" stroke-width="1.15" stroke-linecap="butt"/>
<line x1="417.5" y1="518" x2="417.5" y2="521" stroke="#1a1a1a" stroke-width="1.15" stroke-linecap="butt"/>
<line x1="428.5" y1="518" x2="428.5" y2="521" stroke="#1a1a1a" stroke-width="1.15" stroke-linecap="butt"/>
<line x1="395.6" y1="446.5" x2="426" y2="446.5" stroke="#333" stroke-width="1.1" stroke-linecap="butt"/>
<circle cx="410.5" cy="443.75" r="0.95" fill="#1a1a1a"/>
<line x1="395.6" y1="454.5" x2="416.9" y2="454.5" stroke="#333" stroke-width="1.1" stroke-linecap="butt"/>
<text x="406.5" y="453.1" font-size="8" text-anchor="middle" font-style="italic" fill="#444" style="stroke-width:0">ns</text>
<line x1="395.6" y1="461.5" x2="406.5" y2="461.5" stroke="#333" stroke-width="1.1" stroke-linecap="butt"/>
<text x="402" y="460.1" font-size="8" text-anchor="middle" font-style="italic" fill="#444" style="stroke-width:0">ns</text>
<line x1="406.5" y1="464.5" x2="428.1" y2="464.5" stroke="#333" stroke-width="1.1" stroke-linecap="butt"/>
<text x="417.4" y="463.1" font-size="8" text-anchor="middle" font-style="italic" fill="#444" style="stroke-width:0">ns</text>
<line x1="406.5" y1="472.5" x2="416.9" y2="472.5" stroke="#333" stroke-width="1.1" stroke-linecap="butt"/>
<text x="412.1" y="471.1" font-size="8" text-anchor="middle" font-style="italic" fill="#444" style="stroke-width:0">ns</text>
<text transform="translate(398.2,527.6) rotate(-45)" font-size="8.6" text-anchor="end">DMSO</text>
<text transform="translate(408.8,526.8) rotate(-45)" font-size="7.5" text-anchor="end">umbralisib</text>
<text transform="translate(419.4,526.8) rotate(-45)" font-size="7.5" text-anchor="end">idelalisib</text>
<text transform="translate(430.1,526.8) rotate(-45)" font-size="7.5" text-anchor="end">duvelisib</text>
<line x1="466.5" y1="446.7" x2="466.5" y2="518" stroke="#1a1a1a" stroke-width="1.15" stroke-linecap="butt"/>
<line x1="463.2" y1="449.5" x2="466.77" y2="449.5" stroke="#1a1a1a" stroke-width="1.15" stroke-linecap="butt"/>
<text x="460" y="451.95" font-size="8" text-anchor="end" >2.0</text>
<line x1="463.2" y1="466.5" x2="466.77" y2="466.5" stroke="#1a1a1a" stroke-width="1.15" stroke-linecap="butt"/>
<text x="460" y="469.18" font-size="8" text-anchor="end" >1.5</text>
<line x1="463.2" y1="483.5" x2="466.77" y2="483.5" stroke="#1a1a1a" stroke-width="1.15" stroke-linecap="butt"/>
<text x="460" y="486.4" font-size="8" text-anchor="end" >1.0</text>
<line x1="463.2" y1="500.5" x2="466.77" y2="500.5" stroke="#1a1a1a" stroke-width="1.15" stroke-linecap="butt"/>
<text x="460" y="503.62" font-size="8" text-anchor="end" >0.5</text>
<line x1="463.2" y1="518.5" x2="466.77" y2="518.5" stroke="#1a1a1a" stroke-width="1.15" stroke-linecap="butt"/>
<text x="460" y="520.85" font-size="8" text-anchor="end" >0.0</text>
<line x1="463.2" y1="518.5" x2="512.3" y2="518.5" stroke="#1a1a1a" stroke-width="1.15" stroke-linecap="butt"/>
<rect x="470" y="482.52" width="6.8" height="34.91" fill="#a68cbc"/>
<rect x="480.6" y="495.61" width="6.8" height="21.82" fill="#b4d99c"/>
<rect x="491.2" y="511.8" width="6.8" height="5.63" fill="#d98199"/>
<rect x="501.9" y="510.42" width="6.8" height="7" fill="#9db0d2"/>
<line x1="473.4" y1="468.39" x2="473.4" y2="495.61" stroke="#4e1a6e" stroke-width="0.75" stroke-linecap="butt"/>
<line x1="471.8" y1="468.39" x2="475" y2="468.39" stroke="#4e1a6e" stroke-width="0.85" stroke-linecap="butt"/>
<line x1="471.8" y1="495.61" x2="475" y2="495.61" stroke="#4e1a6e" stroke-width="0.85" stroke-linecap="butt"/>
<line x1="484" y1="488.72" x2="484" y2="502.5" stroke="#4aa636" stroke-width="0.75" stroke-linecap="butt"/>
<line x1="482.4" y1="488.72" x2="485.6" y2="488.72" stroke="#4aa636" stroke-width="0.85" stroke-linecap="butt"/>
<line x1="482.4" y1="502.5" x2="485.6" y2="502.5" stroke="#4aa636" stroke-width="0.85" stroke-linecap="butt"/>
<line x1="494.6" y1="508.7" x2="494.6" y2="514.55" stroke="#c0113a" stroke-width="0.75" stroke-linecap="butt"/>
<line x1="493" y1="508.7" x2="496.2" y2="508.7" stroke="#c0113a" stroke-width="0.85" stroke-linecap="butt"/>
<line x1="493" y1="514.55" x2="496.2" y2="514.55" stroke="#c0113a" stroke-width="0.85" stroke-linecap="butt"/>
<line x1="505.3" y1="507.32" x2="505.3" y2="513.52" stroke="#213f85" stroke-width="0.75" stroke-linecap="butt"/>
<line x1="503.7" y1="507.32" x2="506.9" y2="507.32" stroke="#213f85" stroke-width="0.85" stroke-linecap="butt"/>
<line x1="503.7" y1="513.52" x2="506.9" y2="513.52" stroke="#213f85" stroke-width="0.85" stroke-linecap="butt"/>
<circle cx="473.4" cy="468.39" r="1.59" fill="#4e1a6e"/>
<circle cx="473.4" cy="481.83" r="1.59" fill="#4e1a6e"/>
<circle cx="473.4" cy="495.61" r="1.59" fill="#4e1a6e"/>
<rect x="482.47" y="487.88" width="3.06" height="3.06" fill="#4aa636"/>
<rect x="482.47" y="494.08" width="3.06" height="3.06" fill="#4aa636"/>
<rect x="482.47" y="499.25" width="3.06" height="3.06" fill="#4aa636"/>
<path d="M494.6 507.52L496.28 510.64L492.92 510.64Z" fill="#c0113a"/>
<path d="M495.6 510.27L497.28 513.39L493.92 513.39Z" fill="#c0113a"/>
<path d="M493.6 511.99L495.28 515.11L491.92 515.11Z" fill="#c0113a"/>
<path d="M505.3 509.54L506.98 506.42L503.62 506.42Z" fill="#213f85"/>
<path d="M506.3 512.98L507.98 509.86L504.62 509.86Z" fill="#213f85"/>
<path d="M504.3 514.7L505.98 511.58L502.62 511.58Z" fill="#213f85"/>
<line x1="473.5" y1="518" x2="473.5" y2="521" stroke="#1a1a1a" stroke-width="1.15" stroke-linecap="butt"/>
<line x1="484.5" y1="518" x2="484.5" y2="521" stroke="#1a1a1a" stroke-width="1.15" stroke-linecap="butt"/>
<line x1="494.5" y1="518" x2="494.5" y2="521" stroke="#1a1a1a" stroke-width="1.15" stroke-linecap="butt"/>
<line x1="505.5" y1="518" x2="505.5" y2="521" stroke="#1a1a1a" stroke-width="1.15" stroke-linecap="butt"/>
<line x1="473.5" y1="447.5" x2="505" y2="447.5" stroke="#333" stroke-width="1.1" stroke-linecap="butt"/>
<circle cx="489.2" cy="444.75" r="0.95" fill="#1a1a1a"/>
<line x1="473.5" y1="455.5" x2="494.3" y2="455.5" stroke="#333" stroke-width="1.1" stroke-linecap="butt"/>
<circle cx="484.4" cy="452.75" r="0.95" fill="#1a1a1a"/>
<line x1="473.8" y1="463.5" x2="484.4" y2="463.5" stroke="#333" stroke-width="1.1" stroke-linecap="butt"/>
<text x="479.1" y="462.1" font-size="8" text-anchor="middle" font-style="italic" fill="#444" style="stroke-width:0">ns</text>
<line x1="484.4" y1="477.5" x2="505.2" y2="477.5" stroke="#333" stroke-width="1.1" stroke-linecap="butt"/>
<circle cx="494.6" cy="474.75" r="0.95" fill="#1a1a1a"/>
<line x1="484.4" y1="484.5" x2="494" y2="484.5" stroke="#333" stroke-width="1.1" stroke-linecap="butt"/>
<circle cx="490" cy="481.75" r="0.95" fill="#1a1a1a"/>
<text transform="translate(475.4,527.6) rotate(-45)" font-size="8.6" text-anchor="end">DMSO</text>
<text transform="translate(486,526.8) rotate(-45)" font-size="7.5" text-anchor="end">umbralisib</text>
<text transform="translate(496.6,526.8) rotate(-45)" font-size="7.5" text-anchor="end">idelalisib</text>
<text transform="translate(507.3,526.8) rotate(-45)" font-size="7.5" text-anchor="end">duvelisib</text>
</svg>
</body></html>
